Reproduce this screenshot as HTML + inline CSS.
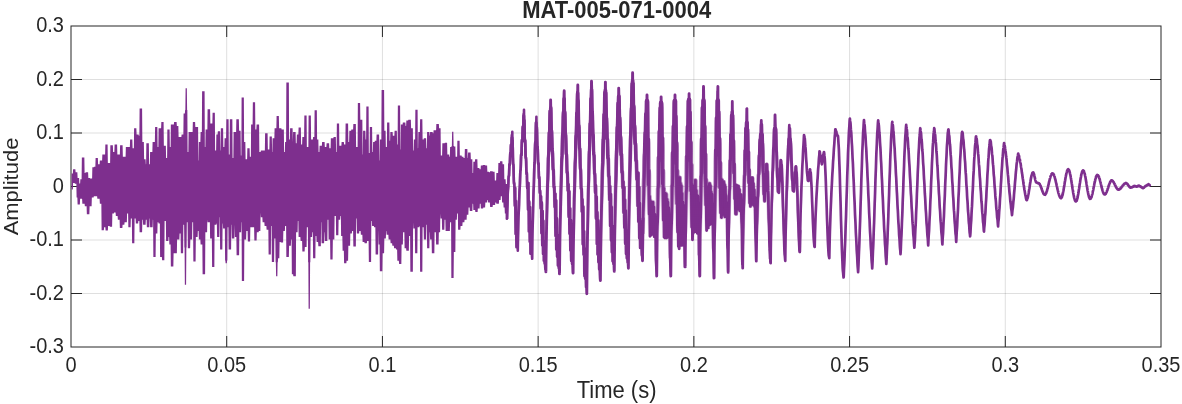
<!DOCTYPE html>
<html lang="en">
<head>
<meta charset="utf-8">
<title>MAT-005-071-0004</title>
<style>
html,body{margin:0;padding:0;background:#fff;}
body{width:1182px;height:404px;overflow:hidden;}
svg{display:block;}
text{font-family:"Liberation Sans",sans-serif;fill:#262626;}
.tick text{font-size:20px;}
.lab{font-size:22px;}
.title{font-size:22px;font-weight:bold;}
</style>
</head>
<body>
<svg width="1182" height="404" viewBox="0 0 1182 404">
<rect x="0" y="0" width="1182" height="404" fill="#ffffff"/>
<g stroke="#262626" stroke-opacity="0.15" stroke-width="1" fill="none">
<line x1="226.71" y1="26" x2="226.71" y2="347"/>
<line x1="382.43" y1="26" x2="382.43" y2="347"/>
<line x1="538.14" y1="26" x2="538.14" y2="347"/>
<line x1="693.86" y1="26" x2="693.86" y2="347"/>
<line x1="849.57" y1="26" x2="849.57" y2="347"/>
<line x1="1005.29" y1="26" x2="1005.29" y2="347"/>
<line x1="71" y1="293.5" x2="1161" y2="293.5"/>
<line x1="71" y1="240.0" x2="1161" y2="240.0"/>
<line x1="71" y1="186.5" x2="1161" y2="186.5"/>
<line x1="71" y1="133.0" x2="1161" y2="133.0"/>
<line x1="71" y1="79.5" x2="1161" y2="79.5"/>
</g>
<g stroke="#262626" stroke-width="1" fill="none">
<line x1="226.71" y1="347" x2="226.71" y2="336"/>
<line x1="226.71" y1="26" x2="226.71" y2="37"/>
<line x1="382.43" y1="347" x2="382.43" y2="336"/>
<line x1="382.43" y1="26" x2="382.43" y2="37"/>
<line x1="538.14" y1="347" x2="538.14" y2="336"/>
<line x1="538.14" y1="26" x2="538.14" y2="37"/>
<line x1="693.86" y1="347" x2="693.86" y2="336"/>
<line x1="693.86" y1="26" x2="693.86" y2="37"/>
<line x1="849.57" y1="347" x2="849.57" y2="336"/>
<line x1="849.57" y1="26" x2="849.57" y2="37"/>
<line x1="1005.29" y1="347" x2="1005.29" y2="336"/>
<line x1="1005.29" y1="26" x2="1005.29" y2="37"/>
<line x1="71" y1="293.5" x2="82" y2="293.5"/>
<line x1="1161" y1="293.5" x2="1150" y2="293.5"/>
<line x1="71" y1="240.0" x2="82" y2="240.0"/>
<line x1="1161" y1="240.0" x2="1150" y2="240.0"/>
<line x1="71" y1="186.5" x2="82" y2="186.5"/>
<line x1="1161" y1="186.5" x2="1150" y2="186.5"/>
<line x1="71" y1="133.0" x2="82" y2="133.0"/>
<line x1="1161" y1="133.0" x2="1150" y2="133.0"/>
<line x1="71" y1="79.5" x2="82" y2="79.5"/>
<line x1="1161" y1="79.5" x2="1150" y2="79.5"/>
</g>
<rect x="71" y="26" width="1090" height="321" fill="none" stroke="#262626" stroke-width="1"/>
<svg x="71" y="26" width="1090" height="321" viewBox="71 26 1090 321" overflow="hidden">
<path fill="#7E2F8E" d="M71.60 173.5 L72.85 173.5 L73.10 169.2 L75.35 169.2 L75.60 172.2 L77.35 172.2 L77.60 177.9 L79.10 177.9 L79.35 183.6 L80.10 183.6 L80.35 179.2 L81.60 179.2 L81.85 157.6 L84.35 157.6 L84.60 173.0 L85.35 173.0 L85.60 172.2 L88.10 172.2 L88.35 177.9 L89.85 177.9 L90.10 178.4 L92.10 178.4 L92.35 167.3 L93.85 167.3 L94.10 166.8 L95.35 166.8 L95.60 158.1 L97.85 158.1 L98.10 164.3 L99.60 164.3 L99.85 160.6 L102.10 160.6 L102.35 154.4 L105.10 154.4 L105.35 144.5 L107.60 144.5 L107.85 163.0 L110.10 163.0 L110.35 145.2 L112.85 145.2 L113.10 151.9 L114.35 151.9 L114.60 144.5 L117.10 144.5 L117.35 154.4 L119.85 154.4 L120.10 145.2 L122.60 145.2 L122.85 156.8 L125.60 156.8 L125.85 146.9 L129.85 146.9 L130.10 139.5 L132.35 139.5 L132.60 148.2 L133.85 148.2 L134.10 128.3 L136.35 128.3 L136.60 134.5 L138.60 134.5 L138.85 135.8 L139.35 135.8 L139.60 108.5 L142.10 108.5 L142.35 142.0 L143.85 142.0 L144.10 159.3 L145.60 159.3 L145.85 164.3 L146.10 164.3 L146.35 143.2 L148.85 143.2 L149.10 164.3 L149.85 164.3 L150.10 151.9 L152.35 151.9 L152.60 142.0 L154.85 142.0 L155.10 127.1 L157.35 127.1 L157.60 146.9 L158.35 146.9 L158.60 128.3 L161.10 128.3 L161.35 122.1 L163.60 122.1 L163.85 145.7 L165.85 145.7 L166.10 158.1 L167.10 158.1 L167.35 129.6 L169.60 129.6 L169.85 146.9 L170.60 146.9 L170.85 124.6 L173.85 124.6 L174.10 122.1 L176.60 122.1 L176.85 125.9 L178.35 125.9 L178.60 137.0 L181.35 137.0 L181.60 134.5 L183.35 134.5 L183.60 113.5 L184.85 113.5 L185.10 110.0 L185.35 110.0 L185.60 88.2 L186.85 88.2 L187.10 110.0 L187.35 110.0 L187.60 151.9 L188.35 151.9 L188.60 132.1 L192.60 132.1 L192.85 122.1 L195.10 122.1 L195.35 127.1 L198.10 127.1 L198.35 160.6 L198.60 160.6 L198.85 142.0 L200.35 142.0 L200.60 132.1 L201.85 132.1 L202.10 91.2 L204.60 91.2 L204.85 146.9 L205.35 146.9 L205.60 129.6 L207.35 129.6 L207.60 109.3 L210.10 109.3 L210.35 123.4 L212.35 123.4 L212.60 112.7 L214.85 112.7 L215.10 150.6 L216.10 150.6 L216.35 134.5 L217.60 134.5 L217.85 131.3 L220.10 131.3 L220.35 150.6 L220.60 150.6 L220.85 128.3 L223.10 128.3 L223.35 146.9 L224.35 146.9 L224.60 138.3 L226.10 138.3 L226.35 119.2 L228.60 119.2 L228.85 154.4 L229.60 154.4 L229.85 119.2 L232.35 119.2 L232.60 158.1 L233.35 158.1 L233.60 132.1 L236.10 132.1 L236.35 119.2 L238.85 119.2 L239.10 130.8 L240.60 130.8 L240.85 155.6 L241.35 155.6 L241.60 97.4 L243.85 97.4 L244.10 142.0 L245.35 142.0 L245.60 159.3 L247.10 159.3 L247.35 148.2 L249.60 148.2 L249.85 156.8 L250.85 156.8 L251.10 124.6 L252.60 124.6 L252.85 102.3 L255.10 102.3 L255.35 129.6 L256.35 129.6 L256.60 124.6 L259.10 124.6 L259.35 151.9 L260.60 151.9 L260.85 150.6 L264.85 150.6 L265.10 133.3 L267.60 133.3 L267.85 149.4 L269.35 149.4 L269.60 136.5 L271.85 136.5 L272.10 151.9 L272.35 151.9 L272.60 138.3 L274.35 138.3 L274.60 128.3 L276.35 128.3 L276.60 115.9 L278.85 115.9 L279.10 128.3 L281.35 128.3 L281.60 129.6 L283.85 129.6 L284.10 151.9 L284.85 151.9 L285.10 142.0 L286.10 142.0 L286.35 82.5 L288.85 82.5 L289.10 139.5 L289.85 139.5 L290.10 128.3 L292.60 128.3 L292.85 142.0 L293.10 132.1 L295.60 132.1 L295.85 143.2 L296.60 143.2 L296.85 134.5 L298.35 134.5 L298.60 127.6 L300.85 127.6 L301.10 144.5 L302.10 144.5 L302.35 137.0 L304.10 137.0 L304.35 115.4 L306.60 115.4 L306.85 146.9 L308.35 146.9 L308.60 115.4 L310.85 115.4 L311.10 139.5 L312.85 139.5 L313.10 137.0 L314.35 137.0 L314.60 110.2 L316.85 110.2 L317.10 139.5 L318.35 139.5 L318.60 151.9 L319.35 151.9 L319.60 145.7 L321.85 145.7 L322.10 142.0 L324.60 142.0 L324.85 146.9 L326.35 146.9 L326.60 143.2 L329.10 143.2 L329.35 148.2 L330.60 148.2 L330.85 138.3 L333.35 138.3 L333.60 137.0 L335.85 137.0 L336.10 151.9 L336.60 151.9 L336.85 123.4 L339.10 123.4 L339.35 145.7 L341.35 145.7 L341.60 142.0 L343.85 142.0 L344.10 144.5 L345.35 144.5 L345.60 123.4 L348.10 123.4 L348.35 142.0 L349.10 142.0 L349.35 130.8 L351.10 130.8 L351.35 129.6 L353.10 129.6 L353.35 124.1 L355.85 124.1 L356.10 146.9 L357.60 146.9 L357.85 103.1 L360.10 103.1 L360.35 119.7 L362.35 119.7 L362.60 154.4 L362.85 154.4 L363.10 130.8 L365.35 130.8 L365.60 139.5 L366.10 139.5 L366.35 106.5 L368.60 106.5 L368.85 153.1 L369.60 153.1 L369.85 127.1 L372.10 127.1 L372.35 151.9 L372.85 151.9 L373.10 142.0 L374.60 142.0 L374.85 140.7 L376.35 140.7 L376.60 134.5 L379.10 134.5 L379.35 160.6 L379.60 160.6 L379.85 139.5 L381.35 139.5 L381.60 89.9 L384.10 89.9 L384.35 130.8 L385.60 130.8 L385.85 146.9 L386.85 146.9 L387.10 122.6 L389.35 122.6 L389.60 140.7 L390.10 140.7 L390.35 132.1 L392.60 132.1 L392.85 135.8 L394.35 135.8 L394.60 130.8 L396.85 130.8 L397.10 144.5 L397.60 144.5 L397.85 105.5 L400.10 105.5 L400.35 149.4 L400.60 149.4 L400.85 124.6 L402.60 124.6 L402.85 122.6 L405.35 122.6 L405.60 125.9 L406.10 125.9 L406.35 120.4 L408.10 120.4 L408.35 119.7 L410.85 119.7 L411.10 128.3 L412.85 128.3 L413.10 150.6 L413.60 150.6 L413.85 139.5 L415.10 139.5 L415.35 109.7 L417.60 109.7 L417.85 148.2 L418.10 148.2 L418.35 132.1 L419.85 132.1 L420.10 119.2 L422.35 119.2 L422.60 139.5 L423.60 139.5 L423.85 138.3 L426.10 138.3 L426.35 148.2 L426.85 148.2 L427.10 132.1 L429.35 132.1 L429.60 135.8 L429.85 135.8 L430.10 132.1 L432.60 132.1 L432.85 133.3 L433.35 133.3 L433.60 130.3 L436.10 130.3 L436.35 123.9 L438.85 123.9 L439.10 128.3 L440.60 128.3 L440.85 155.6 L442.10 155.6 L442.35 143.2 L444.60 143.2 L444.85 142.7 L447.10 142.7 L447.35 154.4 L449.10 154.4 L449.35 156.8 L449.85 156.8 L450.10 146.9 L451.35 146.9 L451.60 145.9 L451.85 145.9 L452.10 131.8 L453.35 131.8 L453.60 145.9 L453.85 145.9 L454.10 146.4 L455.35 146.4 L455.60 156.8 L457.10 156.8 L457.35 140.7 L459.60 140.7 L459.85 155.6 L461.60 155.6 L461.85 156.8 L463.35 156.8 L463.60 158.1 L464.60 158.1 L464.85 148.9 L467.35 148.9 L467.60 158.1 L467.85 158.1 L468.10 152.4 L470.60 152.4 L470.85 159.3 L472.35 159.3 L472.60 173.0 L473.10 173.0 L473.35 161.8 L474.85 161.8 L475.10 159.3 L477.35 159.3 L477.60 168.0 L479.35 168.0 L479.60 169.2 L480.60 169.2 L480.85 165.5 L482.60 165.5 L482.85 165.0 L485.10 165.0 L485.35 165.5 L487.10 165.5 L487.35 171.7 L488.85 171.7 L489.10 172.2 L489.85 172.2 L490.10 171.2 L492.60 171.2 L492.85 171.7 L494.60 171.7 L494.85 180.4 L496.10 180.4 L496.35 173.0 L498.10 173.0 L498.35 163.0 L499.85 163.0 L500.10 161.3 L502.35 161.3 L502.60 164.3 L504.10 164.3 L504.35 179.2 L505.60 179.2 L505.85 184.1 L507.35 184.1 L507.60 186.6 L508.60 186.6 L508.60 206.2 L508.35 219.0 L506.10 219.0 L505.85 213.6 L504.85 213.6 L504.60 207.4 L503.60 207.4 L503.35 202.4 L502.10 202.4 L501.85 196.2 L500.85 196.2 L500.60 200.0 L499.10 200.0 L498.85 203.7 L496.35 203.7 L496.10 202.4 L495.35 202.4 L495.10 204.9 L492.85 204.9 L492.60 206.9 L490.10 206.9 L489.85 202.4 L488.10 202.4 L487.85 200.0 L487.35 200.0 L487.10 202.4 L485.35 202.4 L485.10 207.4 L483.35 207.4 L483.10 208.6 L480.85 208.6 L480.60 203.7 L479.85 203.7 L479.60 208.6 L477.85 208.6 L477.60 211.9 L475.35 211.9 L475.10 209.9 L473.35 209.9 L473.10 203.7 L472.60 203.7 L472.35 211.1 L469.85 211.1 L469.60 207.4 L468.60 207.4 L468.35 214.8 L466.85 214.8 L466.60 219.8 L464.60 219.8 L464.35 222.3 L462.60 222.3 L462.35 226.0 L460.60 226.0 L460.35 229.7 L458.10 229.7 L457.85 213.6 L457.10 213.6 L456.85 219.8 L455.60 219.8 L455.35 252.0 L453.85 252.0 L453.60 278.0 L451.35 278.0 L451.10 222.3 L450.10 222.3 L449.85 230.9 L445.60 230.9 L445.35 219.8 L444.60 219.8 L444.35 229.7 L442.10 229.7 L441.85 218.5 L440.60 218.5 L440.35 213.6 L440.10 232.2 L438.85 232.2 L438.60 244.6 L436.10 244.6 L435.85 232.2 L434.60 232.2 L434.35 253.3 L431.85 253.3 L431.60 239.6 L430.10 239.6 L429.85 232.2 L429.60 232.2 L429.35 248.3 L427.10 248.3 L426.85 224.7 L426.35 224.7 L426.10 239.6 L423.85 239.6 L423.60 227.2 L422.60 227.2 L422.35 271.8 L420.10 271.8 L419.85 226.0 L419.60 226.0 L419.35 227.2 L417.60 227.2 L417.35 253.3 L415.10 253.3 L414.85 228.5 L413.35 228.5 L413.10 222.3 L412.85 271.8 L410.35 271.8 L410.10 235.9 L409.10 235.9 L408.85 250.8 L406.35 250.8 L406.10 248.3 L404.60 248.3 L404.35 232.2 L403.10 232.2 L402.85 244.6 L401.60 244.6 L401.35 263.9 L399.10 263.9 L398.85 260.7 L397.35 260.7 L397.10 249.5 L396.10 249.5 L395.85 248.3 L394.10 248.3 L393.85 245.8 L392.35 245.8 L392.10 243.3 L390.60 243.3 L390.35 239.6 L388.60 239.6 L388.35 234.7 L386.60 234.7 L386.35 230.9 L386.10 230.9 L385.85 238.4 L384.35 238.4 L384.10 253.3 L382.60 253.3 L382.35 271.3 L379.85 271.3 L379.60 244.6 L378.60 244.6 L378.35 229.7 L378.10 254.5 L375.60 254.5 L375.35 227.2 L374.10 227.2 L373.85 226.0 L372.10 226.0 L371.85 221.0 L371.35 221.0 L371.10 261.9 L368.85 261.9 L368.60 240.9 L367.10 240.9 L366.85 243.3 L364.60 243.3 L364.35 242.1 L362.60 242.1 L362.35 234.7 L360.85 234.7 L360.60 230.9 L359.35 230.9 L359.10 233.4 L356.85 233.4 L356.60 218.5 L356.10 218.5 L355.85 246.6 L353.35 246.6 L353.10 230.9 L352.10 230.9 L351.85 233.4 L350.35 233.4 L350.10 245.8 L348.35 245.8 L348.10 260.7 L346.60 260.7 L346.35 263.2 L344.10 263.2 L343.85 250.8 L342.60 250.8 L342.35 235.9 L341.10 235.9 L340.85 216.1 L340.35 216.1 L340.10 219.8 L338.60 219.8 L338.35 235.2 L336.10 235.2 L335.85 216.1 L334.60 216.1 L334.35 239.6 L332.85 239.6 L332.60 259.5 L330.35 259.5 L330.10 239.6 L328.60 239.6 L328.35 219.8 L327.60 219.8 L327.35 240.9 L324.85 240.9 L324.60 232.2 L324.35 232.2 L324.10 243.3 L321.60 243.3 L321.35 222.3 L321.10 222.3 L320.85 246.3 L318.35 246.3 L318.10 242.1 L316.60 242.1 L316.35 235.9 L315.60 235.9 L315.35 258.2 L313.10 258.2 L312.85 232.2 L312.35 232.2 L312.10 237.1 L310.60 237.1 L310.35 262.3 L310.10 262.3 L309.85 308.8 L308.60 308.8 L308.35 262.3 L308.10 262.3 L307.85 227.2 L306.85 227.2 L306.60 247.1 L304.85 247.1 L304.60 251.5 L302.35 251.5 L302.10 240.9 L300.60 240.9 L300.35 237.1 L298.60 237.1 L298.35 221.0 L297.85 221.0 L297.60 232.2 L296.10 232.2 L295.85 276.3 L293.35 276.3 L293.10 274.3 L291.85 274.3 L291.60 239.6 L291.10 239.6 L290.85 245.8 L289.10 245.8 L288.85 257.0 L286.35 257.0 L286.10 226.0 L285.10 226.0 L284.85 230.9 L283.35 230.9 L283.10 242.6 L280.85 242.6 L280.60 242.1 L279.60 242.1 L279.35 258.2 L278.10 258.2 L277.85 262.3 L277.60 262.3 L277.35 276.3 L276.10 276.3 L275.85 262.3 L275.60 262.3 L275.35 238.4 L274.35 238.4 L274.10 261.9 L271.85 261.9 L271.60 226.0 L271.10 226.0 L270.85 254.5 L268.60 254.5 L268.35 229.7 L266.60 229.7 L266.35 226.0 L264.60 226.0 L264.35 222.3 L262.60 222.3 L262.35 217.3 L260.85 217.3 L260.60 212.4 L260.35 230.9 L258.85 230.9 L258.60 232.2 L256.85 232.2 L256.60 240.4 L254.35 240.4 L254.10 227.2 L250.35 227.2 L250.10 241.4 L247.85 241.4 L247.60 230.9 L246.35 230.9 L246.10 239.6 L244.35 239.6 L244.10 281.0 L241.85 281.0 L241.60 222.3 L241.35 222.3 L241.10 232.2 L239.35 232.2 L239.10 255.2 L236.60 255.2 L236.35 237.1 L234.85 237.1 L234.60 224.7 L234.35 238.4 L231.85 238.4 L231.60 224.7 L231.35 224.7 L231.10 249.5 L228.60 249.5 L228.35 227.2 L227.60 227.2 L227.35 260.5 L227.10 260.5 L226.85 263.2 L225.60 263.2 L225.35 260.5 L225.10 260.5 L224.85 228.5 L223.10 228.5 L222.85 223.5 L222.60 223.5 L222.35 249.5 L220.10 249.5 L219.85 217.3 L219.60 217.3 L219.35 237.1 L217.10 237.1 L216.85 223.5 L216.60 223.5 L216.35 224.7 L214.60 224.7 L214.35 266.9 L212.10 266.9 L211.85 238.4 L210.10 238.4 L209.85 222.3 L207.60 222.3 L207.35 219.8 L207.10 232.2 L205.35 232.2 L205.10 274.3 L202.60 274.3 L202.35 244.6 L200.60 244.6 L200.35 239.6 L198.85 239.6 L198.60 230.9 L197.85 230.9 L197.60 237.1 L195.85 237.1 L195.60 261.4 L193.35 261.4 L193.10 222.3 L192.35 222.3 L192.10 239.6 L190.35 239.6 L190.10 248.3 L187.85 248.3 L187.60 222.3 L186.85 222.3 L186.60 247.4 L186.35 247.4 L186.10 284.7 L184.85 284.7 L184.60 247.4 L184.35 247.4 L184.10 224.7 L183.35 224.7 L183.10 253.3 L180.85 253.3 L180.60 233.4 L179.60 233.4 L179.35 239.6 L177.10 239.6 L176.85 253.3 L173.60 253.3 L173.35 266.4 L170.85 266.4 L170.60 244.6 L169.35 244.6 L169.10 237.1 L168.60 237.1 L168.35 240.9 L166.10 240.9 L165.85 221.0 L164.60 221.0 L164.35 260.2 L162.10 260.2 L161.85 257.0 L160.10 257.0 L159.85 223.5 L158.60 223.5 L158.35 222.3 L157.60 222.3 L157.35 233.4 L155.85 233.4 L155.60 257.0 L153.35 257.0 L153.10 219.8 L152.85 219.8 L152.60 227.2 L150.10 227.2 L149.85 218.5 L149.60 218.5 L149.35 227.2 L146.85 227.2 L146.60 219.8 L145.85 219.8 L145.60 224.7 L143.10 224.7 L142.85 219.8 L142.35 219.8 L142.10 232.2 L139.60 232.2 L139.35 221.0 L138.35 221.0 L138.10 223.5 L135.85 223.5 L135.60 218.5 L134.60 218.5 L134.35 243.3 L132.10 243.3 L131.85 218.5 L130.85 218.5 L130.60 227.2 L128.35 227.2 L128.10 213.6 L127.10 213.6 L126.85 222.3 L124.60 222.3 L124.35 224.7 L122.60 224.7 L122.35 228.0 L119.85 228.0 L119.60 219.8 L117.85 219.8 L117.60 216.1 L115.85 216.1 L115.60 212.4 L114.10 212.4 L113.85 213.6 L112.35 213.6 L112.10 226.7 L109.85 226.7 L109.60 226.0 L108.10 226.0 L107.85 230.4 L105.60 230.4 L105.35 227.2 L104.10 227.2 L103.85 230.2 L101.60 230.2 L101.35 203.7 L99.85 203.7 L99.60 198.7 L97.35 198.7 L97.10 196.2 L93.85 196.2 L93.60 197.5 L91.85 197.5 L91.60 206.2 L89.60 206.2 L89.35 214.3 L86.85 214.3 L86.60 206.2 L84.85 206.2 L84.60 203.7 L82.35 203.7 L82.10 198.7 L80.10 198.7 L79.85 204.4 L77.60 204.4 L77.35 197.5 L76.60 197.5 L76.35 183.8 L74.85 183.8 L74.60 183.1 L73.10 183.1 L72.85 189.5 L71.60 189.5 Z"/>
<path fill="none" stroke="#7E2F8E" stroke-width="2.6" stroke-linejoin="round" stroke-linecap="round" d="M506.90 218.8 L507.03 212.3 L507.15 208.8 L507.28 206.4 L507.40 203.9 L507.53 200.2 L507.65 196.2 L507.78 192.6 L507.90 190.6 L508.03 189.3 L508.16 187.9 L508.28 185.6 L508.41 182.4 L508.53 178.6 L508.66 176.8 L508.78 176.0 L508.91 176.1 L509.03 175.4 L509.16 171.8 L509.29 167.8 L509.41 164.2 L509.54 164.5 L509.66 165.3 L509.79 165.0 L509.91 162.7 L510.04 158.9 L510.17 155.2 L510.29 153.1 L510.42 154.9 L510.54 156.6 L510.67 155.8 L510.79 151.4 L510.92 146.4 L511.04 144.7 L511.17 145.2 L511.30 147.3 L511.42 149.0 L511.55 145.4 L511.67 139.9 L511.80 135.1 L511.92 135.1 L512.05 138.2 L512.17 142.0 L512.30 131.7 L512.42 140.5 L512.55 140.4 L512.67 143.5 L512.80 149.8 L512.92 157.4 L513.05 161.6 L513.17 164.3 L513.30 164.2 L513.42 165.0 L513.55 167.8 L513.67 173.9 L513.80 179.7 L513.92 182.4 L514.05 183.8 L514.17 182.8 L514.30 184.0 L514.42 187.9 L514.55 194.4 L514.67 201.5 L514.80 205.6 L514.92 201.7 L515.05 193.6 L515.17 187.9 L515.30 199.6 L515.42 220.5 L515.55 234.0 L515.67 226.2 L515.80 214.8 L515.92 202.2 L516.05 200.9 L516.17 220.0 L516.30 238.1 L516.42 247.2 L516.55 241.6 L516.67 229.9 L516.80 224.0 L516.92 230.3 L517.05 238.8 L517.17 244.2 L517.30 247.1 L517.42 245.9 L517.55 245.6 L517.67 246.5 L517.80 250.8 L517.93 243.2 L518.05 238.3 L518.18 233.2 L518.31 227.5 L518.43 221.6 L518.56 216.5 L518.69 213.3 L518.81 210.6 L518.94 207.9 L519.07 204.6 L519.19 199.9 L519.32 195.5 L519.44 191.9 L519.57 189.5 L519.70 187.9 L519.82 186.2 L519.95 183.0 L520.08 178.5 L520.20 174.6 L520.33 171.4 L520.46 170.4 L520.58 170.1 L520.71 169.0 L520.84 164.9 L520.96 159.9 L521.09 155.8 L521.22 154.1 L521.34 154.5 L521.47 155.3 L521.60 153.2 L521.72 148.4 L521.85 142.7 L521.98 140.0 L522.10 139.8 L522.23 140.8 L522.36 141.6 L522.48 137.5 L522.61 132.6 L522.73 128.0 L522.86 126.5 L522.99 127.7 L523.11 128.8 L523.24 127.4 L523.37 123.1 L523.49 117.6 L523.62 113.7 L523.75 115.0 L523.87 118.3 L524.00 109.7 L524.13 120.1 L524.25 119.7 L524.38 120.3 L524.50 124.6 L524.63 131.5 L524.76 138.5 L524.88 141.5 L525.01 140.5 L525.14 140.4 L525.26 143.3 L525.39 147.8 L525.51 153.1 L525.64 156.7 L525.77 158.1 L525.89 157.5 L526.02 158.8 L526.14 161.3 L526.27 167.6 L526.40 171.7 L526.52 174.0 L526.65 173.1 L526.78 172.5 L526.90 174.3 L527.03 180.6 L527.15 186.5 L527.28 188.4 L527.41 188.2 L527.53 186.6 L527.66 184.1 L527.78 190.7 L527.91 203.1 L528.04 209.8 L528.16 207.3 L528.29 195.5 L528.42 183.1 L528.54 191.0 L528.67 213.3 L528.79 231.5 L528.92 231.1 L529.05 215.4 L529.17 201.3 L529.30 202.3 L529.42 217.4 L529.55 232.6 L529.68 241.8 L529.80 234.6 L529.93 218.8 L530.06 207.0 L530.18 219.9 L530.31 238.6 L530.43 253.8 L530.56 252.1 L530.69 239.8 L530.81 233.4 L530.94 234.7 L531.06 242.0 L531.19 249.0 L531.32 252.5 L531.44 251.7 L531.57 249.3 L531.70 249.3 L531.82 251.4 L531.95 255.0 L532.07 257.5 L532.20 258.8 L532.33 248.6 L532.45 239.1 L532.58 231.2 L532.71 225.4 L532.84 220.6 L532.96 216.3 L533.09 210.6 L533.22 204.5 L533.35 198.1 L533.47 193.6 L533.60 190.3 L533.73 188.2 L533.85 185.3 L533.98 180.2 L534.11 174.6 L534.24 169.4 L534.36 165.0 L534.49 164.1 L534.62 163.0 L534.75 161.5 L534.87 156.5 L535.00 149.7 L535.13 144.9 L535.25 142.4 L535.38 142.8 L535.51 142.3 L535.64 141.7 L535.76 134.9 L535.89 127.8 L536.02 122.2 L536.15 122.9 L536.27 125.3 L536.40 116.8 L536.52 127.7 L536.65 127.4 L536.77 127.0 L536.90 129.6 L537.02 134.8 L537.15 141.4 L537.27 146.1 L537.40 147.0 L537.52 146.6 L537.65 147.1 L537.77 149.6 L537.90 154.4 L538.02 160.1 L538.15 162.9 L538.27 164.1 L538.40 163.0 L538.52 163.3 L538.65 166.4 L538.77 171.5 L538.90 176.4 L539.02 178.3 L539.15 178.3 L539.27 177.1 L539.40 179.0 L539.52 182.4 L539.65 188.1 L539.77 192.2 L539.90 192.9 L540.02 191.8 L540.15 190.8 L540.27 192.5 L540.40 198.2 L540.52 204.9 L540.65 208.5 L540.77 207.1 L540.90 199.6 L541.02 196.4 L541.15 202.5 L541.27 218.2 L541.40 233.3 L541.52 228.7 L541.65 214.8 L541.77 202.3 L541.90 204.6 L542.02 221.6 L542.15 239.7 L542.27 245.4 L542.40 234.1 L542.52 215.5 L542.65 211.0 L542.77 222.8 L542.90 246.2 L543.02 253.9 L543.15 251.7 L543.27 234.3 L543.40 220.8 L543.52 231.3 L543.65 246.3 L543.77 260.8 L543.90 259.3 L544.02 251.8 L544.15 244.3 L544.27 241.3 L544.40 250.7 L544.52 262.0 L544.65 263.5 L544.77 262.4 L544.90 258.4 L545.02 258.7 L545.15 260.2"/>
<path fill="none" stroke="#7E2F8E" stroke-width="2.9" stroke-linejoin="round" stroke-linecap="round" d="M544.90 258.4 L545.02 258.7 L545.15 260.2 L545.27 265.2 L545.40 267.9 L545.52 269.6 L545.65 268.5 L545.77 268.5 L545.90 271.9 L546.03 260.0 L546.15 252.0 L546.28 244.5 L546.41 236.5 L546.54 228.5 L546.66 221.6 L546.79 216.0 L546.92 211.8 L547.04 207.1 L547.17 202.3 L547.30 195.9 L547.42 190.0 L547.55 184.9 L547.68 181.8 L547.81 179.6 L547.93 175.7 L548.06 171.3 L548.19 164.5 L548.31 158.6 L548.44 156.6 L548.57 155.1 L548.69 153.2 L548.82 150.8 L548.95 144.4 L549.08 138.4 L549.20 133.7 L549.33 132.1 L549.46 133.3 L549.58 131.5 L549.71 127.1 L549.84 120.4 L549.96 114.0 L550.09 110.8 L550.22 112.1 L550.35 112.7 L550.47 112.8 L550.60 99.9 L550.73 106.6 L550.85 106.3 L550.98 112.3 L551.10 120.2 L551.23 126.3 L551.35 131.5 L551.48 131.0 L551.60 130.7 L551.73 132.8 L551.85 137.3 L551.98 142.9 L552.10 148.7 L552.23 150.6 L552.35 151.4 L552.48 151.3 L552.61 153.4 L552.73 157.5 L552.86 162.7 L552.98 167.0 L553.11 169.5 L553.23 169.7 L553.36 169.6 L553.48 170.6 L553.61 175.8 L553.73 181.5 L553.86 185.4 L553.98 187.2 L554.11 186.7 L554.24 186.5 L554.36 189.0 L554.49 192.8 L554.61 201.7 L554.74 206.8 L554.86 207.2 L554.99 198.2 L555.11 195.0 L555.24 193.8 L555.36 211.1 L555.49 228.5 L555.61 236.0 L555.74 222.2 L555.86 207.4 L555.99 200.5 L556.12 210.5 L556.24 232.1 L556.37 249.5 L556.49 246.1 L556.62 230.3 L556.74 218.3 L556.87 219.9 L556.99 235.2 L557.12 250.9 L557.24 256.8 L557.37 252.7 L557.49 238.6 L557.62 235.0 L557.75 242.5 L557.87 255.3 L558.00 265.5 L558.12 263.3 L558.25 256.4 L558.37 253.5 L558.50 255.8 L558.62 261.2 L558.75 265.6 L558.87 268.2 L559.00 267.7 L559.12 266.8 L559.25 267.5 L559.37 270.6 L559.50 273.9 L559.63 263.1 L559.75 252.8 L559.88 243.1 L560.01 234.6 L560.14 227.3 L560.26 221.7 L560.39 216.6 L560.52 210.5 L560.64 203.8 L560.77 197.2 L560.90 191.4 L561.02 187.5 L561.15 184.3 L561.28 180.0 L561.41 174.5 L561.53 168.1 L561.66 162.8 L561.79 159.2 L561.91 157.8 L562.04 155.9 L562.17 151.1 L562.29 144.2 L562.42 137.5 L562.55 134.8 L562.68 134.0 L562.80 134.4 L562.93 129.9 L563.06 124.2 L563.18 116.7 L563.31 113.4 L563.44 111.6 L563.56 113.6 L563.69 112.4 L563.82 107.2 L563.95 98.7 L564.07 93.5 L564.20 90.7 L564.33 100.1 L564.45 109.0 L564.58 112.7 L564.70 112.3 L564.83 111.8 L564.95 113.6 L565.08 120.1 L565.20 127.3 L565.33 131.7 L565.45 133.6 L565.58 134.5 L565.70 135.3 L565.83 138.6 L565.95 143.3 L566.08 149.3 L566.21 153.4 L566.33 154.4 L566.46 153.9 L566.58 154.7 L566.71 158.8 L566.83 163.8 L566.96 169.7 L567.08 172.5 L567.21 172.9 L567.33 172.0 L567.46 173.9 L567.58 176.7 L567.71 182.8 L567.84 187.4 L567.96 190.5 L568.09 190.7 L568.21 187.7 L568.34 184.3 L568.46 189.9 L568.59 203.8 L568.71 214.6 L568.84 216.9 L568.96 207.2 L569.09 192.2 L569.21 191.5 L569.34 205.1 L569.46 223.0 L569.59 233.7 L569.72 232.6 L569.84 220.4 L569.97 210.0 L570.09 208.5 L570.22 225.1 L570.34 240.3 L570.47 250.4 L570.59 248.2 L570.72 232.0 L570.84 220.2 L570.97 227.8 L571.09 242.0 L571.22 256.7 L571.35 260.9 L571.47 253.9 L571.60 245.4 L571.72 245.2 L571.85 247.9 L571.97 258.0 L572.10 262.3 L572.22 264.0 L572.35 263.1 L572.47 261.3 L572.60 263.0 L572.72 266.3 L572.85 269.7 L572.97 272.5 L573.10 273.1 L573.23 260.3 L573.35 249.6 L573.48 240.5 L573.61 233.5 L573.74 227.2 L573.86 221.0 L573.99 213.4 L574.12 205.6 L574.24 199.1 L574.37 194.5 L574.50 190.8 L574.62 186.6 L574.75 180.8 L574.88 174.5 L575.01 168.1 L575.13 163.7 L575.26 161.3 L575.39 158.8 L575.51 155.0 L575.64 149.0 L575.77 141.9 L575.89 138.3 L576.02 135.6 L576.15 135.5 L576.28 132.2 L576.40 127.8 L576.53 119.9 L576.66 113.6 L576.78 112.7 L576.91 113.1 L577.04 112.6 L577.16 109.4 L577.29 100.8 L577.42 94.2 L577.55 91.2 L577.67 92.4 L577.80 85.0 L577.92 98.3 L578.05 100.1 L578.17 100.5 L578.30 102.4 L578.42 110.7 L578.55 118.3 L578.67 124.1 L578.80 125.6 L578.92 126.2 L579.05 127.1 L579.17 131.8 L579.30 138.7 L579.42 144.7 L579.55 148.4 L579.67 148.5 L579.80 148.7 L579.92 151.0 L580.05 157.0 L580.17 163.4 L580.30 167.6 L580.42 169.5 L580.55 168.8 L580.67 170.1 L580.80 174.2 L580.92 179.8 L581.05 185.0 L581.17 188.6 L581.30 188.7 L581.42 188.5 L581.55 189.5 L581.67 193.8 L581.80 202.3 L581.92 211.4 L582.05 211.5 L582.17 206.0 L582.30 199.4 L582.42 202.1 L582.55 213.6 L582.67 229.4 L582.80 244.3 L582.92 233.4 L583.05 219.9 L583.17 206.6 L583.30 213.4 L583.42 235.3 L583.55 249.9 L583.67 254.6 L583.80 246.4 L583.92 234.0 L584.05 231.3 L584.17 238.4 L584.30 255.2 L584.42 271.8 L584.55 276.1 L584.67 261.4 L584.80 249.7 L584.92 248.5 L585.05 257.8 L585.17 271.2 L585.30 278.7 L585.42 277.3 L585.55 273.7 L585.67 269.3 L585.80 273.5 L585.92 277.9 L586.05 283.3 L586.17 287.2 L586.30 287.2 L586.42 287.1 L586.55 287.7 L586.67 289.6 L586.80 293.7 L586.93 280.5 L587.05 269.8 L587.18 259.2 L587.31 248.9 L587.44 239.8 L587.56 231.6 L587.69 225.5 L587.82 219.8 L587.94 213.6 L588.07 206.2 L588.20 198.7 L588.32 191.4 L588.45 186.5 L588.58 183.2 L588.71 179.9 L588.83 173.9 L588.96 167.2 L589.09 160.5 L589.21 154.7 L589.34 151.6 L589.47 150.3 L589.59 147.3 L589.72 141.5 L589.85 133.9 L589.98 127.5 L590.10 123.7 L590.23 122.9 L590.36 122.8 L590.48 118.2 L590.61 112.0 L590.74 103.7 L590.86 99.2 L590.99 98.1 L591.12 98.5 L591.25 98.2 L591.37 92.6 L591.50 81.3 L591.63 86.4 L591.75 91.1 L591.88 100.0 L592.00 107.5 L592.13 111.1 L592.25 112.1 L592.38 113.0 L592.50 115.6 L592.63 121.2 L592.75 128.3 L592.88 132.8 L593.00 134.8 L593.13 134.7 L593.25 136.4 L593.38 140.4 L593.51 146.4 L593.63 152.2 L593.76 154.4 L593.88 154.8 L594.01 154.8 L594.13 157.2 L594.26 163.1 L594.38 169.0 L594.51 173.6 L594.63 174.2 L594.76 173.5 L594.88 175.2 L595.01 178.9 L595.14 185.2 L595.26 191.1 L595.39 192.8 L595.51 190.3 L595.64 185.1 L595.76 188.1 L595.89 199.7 L596.01 216.9 L596.14 218.7 L596.26 212.6 L596.39 199.3 L596.51 196.6 L596.64 205.8 L596.76 226.3 L596.89 243.9 L597.02 235.3 L597.14 221.1 L597.27 212.2 L597.39 215.2 L597.52 232.9 L597.64 254.4 L597.77 252.0 L597.89 244.0 L598.02 231.1 L598.14 220.4 L598.27 238.8 L598.39 253.8 L598.52 262.3 L598.65 262.2 L598.77 252.8 L598.90 245.3 L599.02 249.4 L599.15 259.2 L599.27 268.6 L599.40 269.7 L599.52 268.5 L599.65 266.9 L599.77 267.2 L599.90 271.0 L600.02 274.6 L600.15 277.8 L600.27 279.3 L600.40 280.6 L600.52 267.6 L600.65 257.4 L600.77 248.8 L600.90 241.9 L601.02 235.7 L601.15 228.1 L601.27 220.7 L601.40 213.4 L601.52 207.1 L601.65 202.0 L601.77 198.3 L601.90 193.9 L602.02 188.3 L602.15 182.1 L602.27 175.8 L602.40 170.3 L602.52 167.8 L602.65 165.3 L602.77 162.9 L602.90 157.0 L603.02 151.1 L603.15 144.5 L603.27 140.5 L603.40 139.3 L603.52 137.7 L603.65 135.1 L603.77 131.3 L603.90 124.2 L604.02 117.5 L604.15 114.1 L604.27 114.5 L604.40 114.4 L604.52 113.7 L604.65 107.2 L604.77 99.9 L604.90 93.1 L605.02 91.9 L605.15 92.7 L605.27 92.8 L605.40 82.1 L605.53 92.8 L605.65 92.1 L605.78 93.5 L605.90 101.4 L606.03 108.5 L606.15 115.0 L606.28 118.6 L606.40 118.0 L606.53 118.7 L606.65 121.9 L606.78 126.9 L606.90 133.0 L607.03 138.2 L607.15 138.9 L607.28 139.0 L607.41 139.6 L607.53 143.1 L607.66 149.3 L607.78 155.2 L607.91 157.9 L608.03 158.5 L608.16 158.2 L608.28 159.1 L608.41 164.7 L608.53 170.3 L608.66 175.8 L608.78 176.4 L608.91 176.1 L609.04 176.6 L609.16 178.5 L609.29 184.8 L609.41 195.1 L609.54 200.0 L609.66 195.1 L609.79 187.2 L609.91 186.3 L610.04 194.8 L610.16 211.7 L610.29 225.9 L610.41 218.0 L610.54 203.7 L610.66 194.1 L610.79 199.4 L610.92 220.0 L611.04 238.6 L611.17 240.5 L611.29 224.3 L611.42 213.2 L611.54 206.9 L611.67 226.2 L611.79 245.8 L611.92 252.3 L612.04 245.7 L612.17 230.8 L612.29 226.2 L612.42 234.9 L612.55 248.7 L612.67 261.2 L612.80 257.4 L612.92 249.7 L613.05 245.8 L613.17 247.3 L613.30 256.0 L613.42 261.0 L613.55 264.1 L613.67 263.0 L613.80 261.6 L613.92 263.5 L614.05 266.1 L614.17 269.6 L614.30 271.4 L614.43 259.6 L614.55 248.3 L614.68 238.4 L614.80 230.4 L614.93 223.8 L615.05 218.3 L615.18 211.9 L615.31 204.9 L615.43 197.5 L615.56 190.6 L615.68 186.2 L615.81 182.6 L615.93 179.4 L616.06 174.5 L616.19 167.5 L616.31 160.8 L616.44 155.8 L616.56 153.4 L616.69 151.5 L616.81 148.3 L616.94 143.4 L617.07 136.9 L617.19 130.4 L617.32 126.9 L617.44 126.3 L617.57 125.2 L617.69 123.0 L617.82 117.5 L617.95 110.3 L618.07 104.5 L618.20 102.6 L618.32 103.1 L618.45 103.7 L618.57 99.5 L618.70 88.3 L618.83 93.3 L618.95 95.2 L619.08 101.2 L619.20 108.9 L619.33 114.7 L619.46 118.2 L619.58 117.6 L619.71 117.8 L619.83 120.3 L619.96 124.7 L620.09 130.8 L620.21 135.5 L620.34 137.1 L620.46 137.3 L620.59 137.0 L620.72 139.2 L620.84 144.9 L620.97 150.1 L621.09 154.7 L621.22 155.1 L621.35 155.0 L621.47 154.3 L621.60 157.9 L621.72 163.1 L621.85 168.4 L621.98 172.5 L622.10 171.9 L622.23 171.2 L622.35 172.3 L622.48 174.9 L622.61 180.7 L622.73 186.5 L622.86 187.9 L622.98 187.6 L623.11 183.5 L623.24 181.8 L623.36 189.5 L623.49 201.1 L623.61 212.0 L623.74 212.8 L623.86 199.3 L623.99 187.2 L624.12 187.5 L624.24 206.8 L624.37 223.2 L624.49 227.7 L624.62 222.5 L624.75 202.9 L624.87 199.8 L625.00 212.5 L625.12 231.2 L625.25 242.4 L625.38 243.8 L625.50 225.9 L625.63 210.6 L625.75 218.5 L625.88 232.3 L626.01 248.7 L626.13 254.0 L626.26 245.5 L626.38 230.7 L626.51 231.9 L626.64 239.9 L626.76 251.5 L626.89 258.2 L627.01 255.3 L627.14 250.3 L627.27 248.7 L627.39 251.3 L627.52 257.1 L627.64 260.6 L627.77 262.6 L627.90 261.7 L628.02 261.5 L628.15 262.2 L628.27 265.5 L628.40 268.2 L628.53 255.1 L628.65 243.1 L628.78 231.8 L628.91 222.1 L629.04 214.3 L629.16 208.0 L629.29 201.8 L629.42 194.4 L629.55 186.4 L629.67 179.2 L629.80 172.9 L629.93 168.9 L630.05 165.0 L630.18 160.3 L630.31 153.0 L630.44 145.6 L630.56 140.4 L630.69 137.1 L630.82 134.8 L630.95 131.3 L631.07 125.8 L631.20 118.5 L631.33 112.0 L631.45 108.9 L631.58 108.2 L631.71 107.7 L631.84 102.1 L631.96 95.1 L632.09 86.8 L632.22 83.2 L632.35 83.5 L632.47 84.4 L632.60 72.7 L632.73 83.9 L632.85 83.0 L632.98 83.0 L633.10 88.4 L633.23 96.9 L633.35 103.8 L633.48 105.5 L633.60 106.2 L633.73 105.9 L633.85 107.3 L633.98 112.8 L634.10 118.7 L634.23 124.0 L634.35 126.1 L634.48 125.6 L634.61 126.0 L634.73 127.8 L634.86 133.3 L634.98 139.2 L635.11 142.3 L635.23 144.2 L635.36 143.5 L635.48 143.5 L635.61 145.7 L635.73 151.6 L635.86 156.8 L635.98 160.5 L636.11 160.8 L636.23 160.4 L636.36 160.8 L636.48 163.9 L636.61 169.0 L636.74 174.7 L636.86 179.4 L636.99 177.6 L637.11 173.0 L637.24 172.6 L637.36 175.0 L637.49 187.3 L637.61 198.8 L637.74 205.9 L637.86 195.0 L637.99 181.0 L638.11 173.0 L638.24 189.5 L638.36 208.0 L638.49 221.7 L638.62 219.3 L638.74 207.3 L638.87 195.4 L638.99 187.3 L639.12 204.7 L639.24 223.5 L639.37 238.2 L639.49 231.3 L639.62 217.7 L639.74 203.2 L639.87 211.1 L639.99 222.6 L640.12 239.3 L640.24 247.9 L640.37 241.0 L640.49 227.1 L640.62 221.5 L640.75 229.5 L640.87 240.1 L641.00 247.0 L641.12 248.3 L641.25 245.2 L641.37 242.0 L641.50 243.3 L641.62 247.2 L641.75 252.0 L641.87 254.8 L642.00 255.6 L642.12 254.9 L642.25 255.5 L642.37 257.1 L642.50 260.7 L642.62 250.5 L642.75 241.9 L642.88 233.5 L643.00 225.2 L643.12 218.5"/>
<path fill="none" stroke="#7E2F8E" stroke-width="2.9" stroke-linejoin="round" stroke-linecap="round" d="M642.88 233.5 L643.00 225.2 L643.12 218.5 L643.25 213.0 L643.38 208.8 L643.50 204.0 L643.62 198.9 L643.75 192.4 L643.88 186.7 L644.00 182.3 L644.12 179.4 L644.25 177.3 L644.38 173.5 L644.50 167.4 L644.62 161.5 L644.75 157.4 L644.88 154.7 L645.00 154.0 L645.12 151.6 L645.25 147.3 L645.38 140.7 L645.50 134.4 L645.62 132.5 L645.75 133.0 L645.88 133.8 L646.00 128.9 L646.12 123.3 L646.25 116.6 L646.38 113.4 L646.50 113.6 L646.62 115.6 L646.75 112.8 L646.88 108.5 L647.00 95.0 L647.12 102.3 L647.25 112.7 L647.38 129.1 L647.50 143.2 L647.62 147.8 L647.75 142.0 L647.88 139.0 L648.00 142.6 L648.12 156.3 L648.25 171.0 L648.38 184.9 L648.50 180.3 L648.62 170.1 L648.75 171.4 L648.88 175.2 L649.00 195.0 L649.12 209.3 L649.25 214.2 L649.38 204.1 L649.50 196.1 L649.62 197.8 L649.75 208.9 L649.88 224.5 L650.00 236.3 L650.13 232.0 L650.26 214.2 L650.39 200.8 L650.52 205.7 L650.65 221.6 L650.78 235.3 L650.91 234.2 L651.04 221.5 L651.17 205.8 L651.30 203.7 L651.43 211.5 L651.56 229.7 L651.69 232.4 L651.82 229.4 L651.95 212.9 L652.08 202.4 L652.21 205.0 L652.34 217.7 L652.47 234.3 L652.60 234.3 L652.73 220.5 L652.85 204.7 L652.98 202.2 L653.10 208.9 L653.23 222.4 L653.35 233.0 L653.48 232.8 L653.60 221.4 L653.73 207.7 L653.85 207.0 L653.98 213.1 L654.10 227.0 L654.23 236.7 L654.35 232.5 L654.48 223.6 L654.60 214.3 L654.73 214.1 L654.85 220.5 L654.98 229.9 L655.10 232.5 L655.23 233.3 L655.37 226.1 L655.50 225.8 L655.63 231.9 L655.77 243.3 L655.90 254.4 L656.03 260.1 L656.17 262.4 L656.30 264.5 L656.43 267.0 L656.57 272.4 L656.70 276.1 L656.83 265.9 L656.95 254.6 L657.08 243.7 L657.20 234.1 L657.33 226.7 L657.45 223.6 L657.58 221.3 L657.71 214.6 L657.83 207.2 L657.96 196.7 L658.08 189.0 L658.21 188.0 L658.33 187.5 L658.46 185.6 L658.59 180.0 L658.71 171.2 L658.84 161.1 L658.96 157.3 L659.09 158.8 L659.21 161.8 L659.34 158.8 L659.47 150.6 L659.59 141.0 L659.72 131.5 L659.84 133.3 L659.97 137.0 L660.09 139.3 L660.22 132.6 L660.35 122.7 L660.47 112.8 L660.60 107.9 L660.72 113.9 L660.85 119.1 L660.97 121.1 L661.10 96.9 L661.23 104.3 L661.35 107.5 L661.48 122.1 L661.60 138.2 L661.73 150.6 L661.85 152.9 L661.98 144.5 L662.10 138.0 L662.23 146.4 L662.35 164.2 L662.48 184.0 L662.60 183.6 L662.73 178.8 L662.85 170.2 L662.98 172.6 L663.10 184.5 L663.23 205.9 L663.35 220.3 L663.48 208.2 L663.60 196.2 L663.73 188.4 L663.85 195.3 L663.98 218.3 L664.10 237.2 L664.23 233.3 L664.36 215.7 L664.49 200.8 L664.62 194.6 L664.75 215.9 L664.88 231.5 L665.01 238.0 L665.14 220.0 L665.27 203.4 L665.40 193.5 L665.53 209.7 L665.66 229.8 L665.79 237.8 L665.92 225.8 L666.05 203.3 L666.18 194.3 L666.31 201.3 L666.44 219.9 L666.57 238.0 L666.70 226.2 L666.83 210.1 L666.96 199.7 L667.09 199.5 L667.23 213.8 L667.36 233.4 L667.49 232.6 L667.62 219.6 L667.75 202.0 L667.88 202.5 L668.02 211.1 L668.15 227.2 L668.28 237.0 L668.41 229.9 L668.54 214.8 L668.67 207.7 L668.81 211.3 L668.94 222.6 L669.07 235.1 L669.20 233.7 L669.33 223.9 L669.47 218.0 L669.60 219.8 L669.73 231.4 L669.87 246.4 L670.00 254.0 L670.13 258.1 L670.27 258.1 L670.40 262.3 L670.53 268.4 L670.67 274.1 L670.80 276.1 L670.93 264.8 L671.05 252.2 L671.18 241.0 L671.31 232.0 L671.44 226.1 L671.56 222.5 L671.69 217.5 L671.82 210.8 L671.95 201.4 L672.07 190.8 L672.20 185.7 L672.33 185.1 L672.45 185.9 L672.58 181.0 L672.71 174.3 L672.84 163.4 L672.96 154.7 L673.09 152.3 L673.22 154.8 L673.35 155.6 L673.47 153.6 L673.60 143.2 L673.73 133.1 L673.85 126.2 L673.98 127.5 L674.11 131.1 L674.24 134.4 L674.36 127.5 L674.49 114.7 L674.62 103.1 L674.75 100.9 L674.87 106.0 L675.00 95.0 L675.12 122.5 L675.25 123.4 L675.38 115.7 L675.50 116.9 L675.62 126.9 L675.75 147.1 L675.88 162.1 L676.00 163.9 L676.12 156.2 L676.25 142.9 L676.38 145.9 L676.50 166.3 L676.62 192.5 L676.75 203.7 L676.88 195.2 L677.00 177.5 L677.12 170.7 L677.25 179.3 L677.38 205.7 L677.50 228.0 L677.62 232.3 L677.75 209.3 L677.88 187.8 L678.00 193.4 L678.13 213.2 L678.26 239.2 L678.39 246.5 L678.52 223.0 L678.65 193.6 L678.78 181.2 L678.91 208.1 L679.04 236.1 L679.17 248.7 L679.30 226.1 L679.43 197.8 L679.56 177.8 L679.69 203.3 L679.82 228.9 L679.95 238.2 L680.08 232.1 L680.21 198.2 L680.34 183.4 L680.47 198.1 L680.60 223.0 L680.73 241.7 L680.85 237.2 L680.98 210.2 L681.10 187.4 L681.23 185.9 L681.35 211.0 L681.48 233.4 L681.60 245.4 L681.73 223.0 L681.85 200.5 L681.98 193.6 L682.10 201.8 L682.23 224.1 L682.35 245.3 L682.48 234.2 L682.60 217.4 L682.73 203.1 L682.85 202.0 L682.98 217.4 L683.10 233.6 L683.23 239.0 L683.35 230.3 L683.48 213.3 L683.60 205.5 L683.73 212.4 L683.87 228.8 L684.00 243.8 L684.13 241.6 L684.27 235.8 L684.40 232.4 L684.53 241.8 L684.67 254.1 L684.80 262.9 L684.93 266.9 L685.07 265.0 L685.20 266.9 L685.33 250.3 L685.45 241.4 L685.58 235.0 L685.70 230.0 L685.83 220.8 L685.95 210.8 L686.08 200.5 L686.21 193.9 L686.33 191.9 L686.46 190.5 L686.58 187.8 L686.71 179.8 L686.84 170.0 L686.96 161.8 L687.09 156.3 L687.21 157.9 L687.34 159.1 L687.46 156.2 L687.59 148.8 L687.72 138.4 L687.84 131.4 L687.97 126.6 L688.09 130.7 L688.22 133.1 L688.35 130.6 L688.47 121.8 L688.60 109.8 L688.72 101.0 L688.85 101.6 L688.97 108.0 L689.10 93.7 L689.23 121.8 L689.35 117.7 L689.48 111.8 L689.60 112.1 L689.73 125.8 L689.85 143.6 L689.98 161.0 L690.10 161.5 L690.23 152.7 L690.35 147.3 L690.48 142.2 L690.60 161.0 L690.73 180.8 L690.85 190.8 L690.98 189.4 L691.10 178.5 L691.23 164.9 L691.35 174.5 L691.48 193.9 L691.60 219.5 L691.73 227.2 L691.85 211.7 L691.98 191.6 L692.10 184.4 L692.23 194.1 L692.36 220.4 L692.49 239.8 L692.62 230.8 L692.75 204.4 L692.88 190.2 L693.01 187.3 L693.14 210.5 L693.27 233.3 L693.40 230.3 L693.53 211.4 L693.66 187.9 L693.79 187.0 L693.92 202.7 L694.05 221.7 L694.18 231.5 L694.31 213.6 L694.44 191.7 L694.57 186.3 L694.70 195.8 L694.83 219.8 L694.96 231.6 L695.09 222.1 L695.22 199.5 L695.35 180.5 L695.48 193.8 L695.61 215.9 L695.74 231.7 L695.87 226.3 L696.00 204.3 L696.13 190.5 L696.26 190.8 L696.39 212.9 L696.51 230.4 L696.64 228.5 L696.77 211.1 L696.90 195.1 L697.03 195.3 L697.16 212.1 L697.29 226.7 L697.42 233.4 L697.55 216.7 L697.68 202.0 L697.81 196.0 L697.94 211.5 L698.07 226.3 L698.20 230.4 L698.33 220.2 L698.47 209.2 L698.60 212.5 L698.73 225.5 L698.87 242.6 L699.00 254.4 L699.13 255.1 L699.27 256.0 L699.40 260.2 L699.53 268.0 L699.67 275.2 L699.80 276.1 L699.93 261.9 L700.06 247.3 L700.18 234.7 L700.31 226.1 L700.44 220.4 L700.57 216.7 L700.69 209.2 L700.82 198.7 L700.95 187.8 L701.08 180.0 L701.20 176.6 L701.33 176.1 L701.46 174.0 L701.59 166.8 L701.71 155.3 L701.84 144.0 L701.97 138.9 L702.10 141.2 L702.22 141.9 L702.35 139.7 L702.48 130.1 L702.61 119.2 L702.73 107.8 L702.86 108.5 L702.99 113.6 L703.12 117.7 L703.24 113.4 L703.37 99.4 L703.50 86.5 L703.62 90.8 L703.75 104.2 L703.88 121.9 L704.00 135.4 L704.12 135.5 L704.25 131.3 L704.38 126.3 L704.50 127.6 L704.62 144.0 L704.75 159.5 L704.88 168.8 L705.00 173.2 L705.12 162.1 L705.25 154.3 L705.38 160.4 L705.50 174.7 L705.62 195.9 L705.75 205.0 L705.88 199.1 L706.00 188.3 L706.12 179.7 L706.25 185.8 L706.38 202.5 L706.50 223.1 L706.63 230.5 L706.76 212.2 L706.89 194.6 L707.02 190.7 L707.15 196.5 L707.28 213.7 L707.41 225.9 L707.54 224.0 L707.67 203.0 L707.80 191.2 L707.93 187.3 L708.06 201.3 L708.19 222.2 L708.32 227.9 L708.45 210.0 L708.58 191.6 L708.71 186.6 L708.84 191.4 L708.97 210.0 L709.10 219.2 L709.23 213.2 L709.35 199.9 L709.48 183.6 L709.60 189.8 L709.73 201.7 L709.86 215.0 L709.98 224.6 L710.11 208.8 L710.23 196.6 L710.36 185.9 L710.49 197.7 L710.61 213.5 L710.74 220.0 L710.86 215.6 L710.99 203.9 L711.11 192.0 L711.24 193.3 L711.37 208.4 L711.49 218.5 L711.62 223.5 L711.74 213.0 L711.87 200.7 L712.00 194.2 L712.12 205.8 L712.25 219.0 L712.37 224.4 L712.50 215.9 L712.63 208.1 L712.77 203.8 L712.90 213.8 L713.03 230.0 L713.17 242.3 L713.30 248.2 L713.43 249.8 L713.57 253.2 L713.70 263.8 L713.83 273.1 L713.97 278.1 L714.10 278.1 L714.23 261.4 L714.35 247.5 L714.48 238.5 L714.61 232.0 L714.73 226.2 L714.86 218.8 L714.99 207.8 L715.11 197.0 L715.24 189.8 L715.37 186.7 L715.49 186.7 L715.62 182.8 L715.75 173.1 L715.87 162.0 L716.00 154.6 L716.13 149.7 L716.25 152.7 L716.38 153.8 L716.51 145.9 L716.63 134.8 L716.76 122.0 L716.89 117.9 L717.01 121.6 L717.14 124.9 L717.27 123.5 L717.39 114.7 L717.52 101.0 L717.65 90.9 L717.77 91.8 L717.90 86.5 L718.02 114.9 L718.15 117.3 L718.27 114.8 L718.40 111.6 L718.52 113.9 L718.65 125.9 L718.77 143.6 L718.90 155.8 L719.02 151.3 L719.15 145.4 L719.27 138.6 L719.40 143.0 L719.52 159.9 L719.65 175.3 L719.77 187.5 L719.90 182.5 L720.02 170.8 L720.15 162.7 L720.27 173.2 L720.40 188.4 L720.52 205.1 L720.65 213.0 L720.77 202.7 L720.90 190.1 L721.03 179.2 L721.16 190.6 L721.29 204.8 L721.42 217.6 L721.55 213.9 L721.68 199.9 L721.81 187.1 L721.94 180.3 L722.07 192.4 L722.20 208.4 L722.33 211.8 L722.46 209.1 L722.59 190.7 L722.72 182.6 L722.85 182.9 L722.98 198.0 L723.11 214.1 L723.24 212.5 L723.37 199.9 L723.50 184.0 L723.63 182.0 L723.76 189.7 L723.89 202.8 L724.02 214.5 L724.15 207.4 L724.27 194.4 L724.40 184.6 L724.53 185.3 L724.66 197.9 L724.79 208.0 L724.92 216.8 L725.05 204.4 L725.18 194.2"/>
<path fill="none" stroke="#7E2F8E" stroke-width="2.8" stroke-linejoin="round" stroke-linecap="round" d="M724.92 216.8 L725.05 204.4 L725.18 194.2 L725.31 187.2 L725.44 194.0 L725.57 206.6 L725.70 215.6 L725.83 211.0 L725.95 201.1 L726.08 195.6 L726.21 196.8 L726.34 204.2 L726.47 214.8 L726.60 213.8 L726.73 207.0 L726.87 202.7 L727.00 204.9 L727.13 219.2 L727.27 235.0 L727.40 244.5 L727.53 248.0 L727.67 249.8 L727.80 257.1 L727.93 265.2 L728.07 271.1 L728.20 272.4 L728.33 259.5 L728.46 247.5 L728.58 236.9 L728.71 230.0 L728.84 225.9 L728.97 221.9 L729.10 214.3 L729.23 204.7 L729.35 196.0 L729.48 191.5 L729.61 189.6 L729.74 188.8 L729.87 182.4 L729.99 174.4 L730.12 165.7 L730.25 160.2 L730.38 160.6 L730.51 160.7 L730.63 157.8 L730.76 150.1 L730.89 140.4 L731.02 134.3 L731.15 135.6 L731.27 136.5 L731.40 135.7 L731.53 129.7 L731.66 119.8 L731.79 112.0 L731.92 111.6 L732.04 114.9 L732.17 117.8 L732.30 101.4 L732.42 112.3 L732.55 110.6 L732.67 118.9 L732.80 128.4 L732.92 140.9 L733.05 148.4 L733.17 145.8 L733.30 141.9 L733.42 140.8 L733.55 148.2 L733.67 161.0 L733.80 171.1 L733.92 173.1 L734.05 169.1 L734.17 164.0 L734.30 167.8 L734.42 177.3 L734.55 189.0 L734.67 198.8 L734.80 193.8 L734.92 186.7 L735.05 184.3 L735.17 189.7 L735.30 200.7 L735.43 209.3 L735.56 214.0 L735.69 202.1 L735.82 188.2 L735.95 188.7 L736.08 193.9 L736.21 204.1 L736.34 214.1 L736.47 207.4 L736.60 193.6 L736.73 185.4 L736.86 187.6 L736.99 197.4 L737.12 207.3 L737.25 209.2 L737.38 198.7 L737.51 188.6 L737.64 185.8 L737.77 188.6 L737.90 201.3 L738.03 206.1 L738.16 207.0 L738.28 194.9 L738.41 186.2 L738.54 187.4 L738.67 194.4 L738.80 205.9 L738.92 208.0 L739.05 203.0 L739.18 194.6 L739.31 189.6 L739.44 189.6 L739.56 200.3 L739.69 210.8 L739.82 208.2 L739.95 204.8 L740.08 195.7 L740.20 194.4 L740.33 197.5 L740.46 205.6 L740.59 210.5 L740.72 209.2 L740.84 203.4 L740.97 195.5 L741.10 194.6 L741.23 202.7 L741.37 211.7 L741.50 218.6 L741.63 222.2 L741.77 224.6 L741.90 229.4 L742.03 241.0 L742.17 253.0 L742.30 260.0 L742.43 264.7 L742.57 264.5 L742.70 268.2 L742.83 254.1 L742.95 246.8 L743.08 241.0 L743.21 233.6 L743.34 225.1 L743.46 215.6 L743.59 209.8 L743.72 205.8 L743.85 203.6 L743.97 200.2 L744.10 194.7 L744.23 185.9 L744.35 179.6 L744.48 176.3 L744.61 175.3 L744.74 175.2 L744.86 170.8 L744.99 162.9 L745.12 155.5 L745.25 150.3 L745.37 150.8 L745.50 153.1 L745.63 150.8 L745.75 143.4 L745.88 135.5 L746.01 128.2 L746.14 129.0 L746.26 132.1 L746.39 130.9 L746.52 127.7 L746.65 117.8 L746.77 108.9 L746.90 108.6 L747.02 120.8 L747.15 129.9 L747.27 137.3 L747.40 133.9 L747.52 129.6 L747.65 134.1 L747.77 143.0 L747.90 155.3 L748.02 160.5 L748.15 159.0 L748.27 154.6 L748.40 152.0 L748.52 160.6 L748.65 171.3 L748.77 181.1 L748.90 182.9 L749.02 176.8 L749.15 169.7 L749.27 171.0 L749.40 183.1 L749.52 195.4 L749.65 203.1 L749.77 197.1 L749.90 187.5 L750.03 185.1 L750.16 186.6 L750.29 200.5 L750.42 206.4 L750.55 202.4 L750.68 190.7 L750.81 181.8 L750.94 186.0 L751.07 194.3 L751.20 202.0 L751.33 201.5 L751.46 193.0 L751.59 183.5 L751.72 178.0 L751.85 188.6 L751.98 197.3 L752.11 204.3 L752.24 195.8 L752.37 186.5 L752.50 178.0 L752.63 182.5 L752.76 193.7 L752.89 202.9 L753.02 199.2 L753.15 192.6 L753.28 183.6 L753.41 186.1 L753.54 192.0 L753.66 201.0 L753.79 205.1 L753.92 200.8 L754.05 194.5 L754.18 189.8 L754.31 193.0 L754.44 199.2 L754.57 206.4 L754.70 204.2 L754.83 201.0 L754.97 197.5 L755.10 202.6 L755.23 211.4 L755.37 224.8 L755.50 233.7 L755.63 239.3 L755.77 242.5 L755.90 246.9 L756.03 253.1 L756.17 258.9 L756.30 261.2 L756.42 253.3 L756.55 244.8 L756.67 236.6 L756.80 230.1 L756.92 225.6 L757.05 223.5 L757.17 220.9 L757.30 216.1 L757.42 209.5 L757.55 203.7 L757.67 198.8 L757.80 196.5 L757.92 196.1 L758.05 193.5 L758.17 189.6 L758.30 183.9 L758.42 178.7 L758.55 175.3 L758.67 174.6 L758.80 174.3 L758.92 172.6 L759.05 167.9 L759.17 162.8 L759.30 157.1 L759.42 155.5 L759.55 156.1 L759.67 156.5 L759.80 154.6 L759.92 149.4 L760.05 143.2 L760.17 140.8 L760.30 139.2 L760.42 140.2 L760.55 140.6 L760.67 136.8 L760.80 131.6 L760.92 125.8 L761.05 124.1 L761.17 125.2 L761.30 120.5 L761.43 127.5 L761.56 126.3 L761.68 124.0 L761.81 124.5 L761.94 128.5 L762.07 135.1 L762.20 141.2 L762.32 143.9 L762.45 143.6 L762.58 145.8 L762.71 150.9 L762.84 159.1 L762.96 166.1 L763.09 170.4 L763.22 172.2 L763.35 173.5 L763.48 177.3 L763.60 184.1 L763.73 190.6 L763.86 193.9 L763.99 194.4 L764.12 192.2 L764.24 192.7 L764.37 196.1 L764.50 200.5 L764.63 201.1 L764.76 199.1 L764.89 193.8 L765.02 190.0 L765.15 189.6 L765.28 191.2 L765.41 190.7 L765.54 186.7 L765.66 180.6 L765.79 175.0 L765.92 173.5 L766.05 174.7 L766.18 174.7 L766.31 173.3 L766.44 168.8 L766.57 165.3 L766.70 164.3 L766.83 167.7 L766.95 171.4 L767.08 174.6 L767.20 172.9 L767.33 171.3 L767.45 172.9 L767.58 176.9 L767.70 182.9 L767.83 188.3 L767.95 190.9 L768.08 192.7 L768.20 194.3 L768.33 197.9 L768.45 205.0 L768.58 211.9 L768.70 218.5 L768.83 221.3 L768.95 223.2 L769.08 226.0 L769.20 230.8 L769.33 237.0 L769.45 243.1 L769.58 247.4 L769.70 248.9 L769.83 249.7 L769.95 251.1 L770.08 254.5 L770.20 258.8"/>
<path fill="none" stroke="#7E2F8E" stroke-width="2.6" stroke-linejoin="round" stroke-linecap="round" d="M769.83 249.7 L769.95 251.1 L770.08 254.5 L770.20 258.8 L770.33 261.7 L770.45 262.9 L770.58 261.7 L770.70 263.2 L770.83 249.9 L770.95 241.8 L771.08 236.1 L771.21 231.1 L771.34 224.0 L771.46 216.1 L771.59 208.4 L771.72 203.5 L771.85 200.4 L771.97 198.1 L772.10 194.8 L772.23 188.8 L772.35 182.1 L772.48 176.4 L772.61 172.9 L772.74 171.4 L772.86 169.8 L772.99 166.8 L773.12 161.5 L773.25 155.3 L773.37 150.7 L773.50 148.0 L773.63 148.2 L773.75 147.2 L773.88 143.8 L774.01 138.1 L774.14 132.4 L774.26 128.9 L774.39 127.5 L774.52 128.2 L774.65 126.4 L774.77 123.8 L774.90 114.9 L775.02 114.9 L775.15 114.9 L775.27 119.2 L775.40 123.8 L775.52 127.1 L775.65 128.1 L775.77 127.7 L775.90 129.3 L776.02 132.6 L776.15 139.2 L776.27 146.0 L776.40 150.0 L776.52 151.5 L776.65 152.5 L776.77 156.2 L776.90 161.7 L777.02 168.4 L777.15 173.5 L777.27 176.5 L777.40 177.8 L777.52 179.1 L777.65 181.2 L777.77 185.9 L777.90 190.0 L778.02 191.7 L778.15 191.9 L778.27 190.8 L778.40 189.9 L778.53 190.6 L778.66 192.1 L778.79 192.8 L778.92 190.6 L779.05 187.2 L779.18 183.9 L779.31 181.9 L779.44 182.0 L779.57 181.3 L779.70 179.1 L779.83 174.8 L779.96 171.0 L780.09 168.2 L780.22 168.2 L780.35 168.3 L780.48 166.6 L780.61 164.3 L780.74 161.4 L780.87 160.3 L781.00 161.6 L781.13 164.1 L781.25 165.0 L781.38 164.8 L781.51 164.7 L781.63 165.6 L781.76 168.6 L781.89 172.8 L782.01 176.5 L782.14 179.6 L782.26 181.4 L782.39 184.1 L782.52 187.8 L782.64 193.6 L782.77 198.9 L782.90 203.6 L783.02 207.1 L783.15 210.3 L783.28 214.2 L783.40 219.9 L783.53 225.4 L783.66 230.6 L783.78 233.9 L783.91 236.5 L784.04 239.7 L784.16 243.4 L784.29 247.7 L784.41 251.3 L784.54 254.0 L784.67 255.2 L784.79 255.8 L784.92 257.3 L785.05 259.1 L785.17 260.5 L785.30 261.0 L785.42 251.2 L785.55 242.0 L785.67 234.3 L785.80 228.0 L785.92 222.8 L786.05 218.3 L786.17 213.2 L786.30 207.5 L786.42 201.8 L786.55 197.0 L786.67 192.8 L786.80 190.0 L786.92 187.1 L787.05 182.9 L787.17 178.1 L787.30 173.4 L787.42 169.7 L787.55 166.7 L787.67 165.0 L787.80 162.4 L787.92 158.9 L788.05 154.4 L788.17 150.4 L788.30 146.7 L788.42 145.2 L788.55 144.1 L788.67 141.7 L788.80 138.4 L788.92 134.0 L789.05 130.4 L789.17 127.0 L789.30 125.0 L789.43 128.0 L789.56 129.5 L789.68 128.9 L789.81 128.1 L789.94 128.2 L790.07 130.2 L790.20 134.1 L790.32 138.1 L790.45 139.8 L790.58 141.1 L790.71 142.0 L790.84 144.6 L790.97 148.4 L791.09 153.4 L791.22 157.4 L791.35 160.3 L791.48 161.6 L791.61 163.5 L791.73 166.3 L791.86 170.6 L791.99 175.5 L792.12 178.3 L792.25 180.0 L792.38 180.7 L792.50 181.5 L792.63 184.1 L792.76 187.4 L792.89 189.8 L793.02 190.8 L793.14 190.4 L793.27 189.2 L793.40 189.1 L793.52 190.1 L793.65 191.2 L793.77 191.3 L793.90 189.6 L794.02 186.9 L794.15 184.5 L794.27 183.4 L794.40 183.1 L794.52 182.7 L794.65 181.4 L794.77 178.6 L794.90 175.3 L795.02 172.7 L795.15 172.0 L795.27 172.8 L795.40 172.3 L795.52 171.1 L795.65 168.8 L795.77 167.0 L795.90 166.5 L796.03 168.7 L796.15 171.3 L796.28 172.3 L796.40 172.4 L796.53 172.6 L796.65 174.5 L796.78 177.6 L796.91 182.2 L797.03 186.7 L797.16 189.1 L797.28 191.2 L797.41 194.2 L797.54 198.3 L797.66 203.8 L797.79 209.4 L797.91 213.0 L798.04 216.2 L798.16 219.1 L798.29 223.0 L798.42 227.7 L798.54 232.5 L798.67 236.5 L798.79 238.9 L798.92 240.6 L799.05 242.6 L799.17 245.4 L799.30 248.1 L799.42 250.5 L799.55 251.0 L799.67 250.8 L799.80 251.9 L799.93 242.1 L800.05 236.0 L800.18 230.8"/>
<path fill="none" stroke="#7E2F8E" stroke-width="2.7" stroke-linejoin="round" stroke-linecap="round" d="M799.80 251.9 L799.93 242.1 L800.05 236.0 L800.18 230.8 L800.31 225.3 L800.44 219.6 L800.56 214.2 L800.69 209.6 L800.82 205.9 L800.95 202.8 L801.07 199.2 L801.20 195.3 L801.33 190.9 L801.45 187.0 L801.58 183.9 L801.71 181.7 L801.84 179.0 L801.96 176.1 L802.09 172.6 L802.22 169.1 L802.35 166.1 L802.47 164.0 L802.60 162.0 L802.73 159.8 L802.85 156.9 L802.98 153.7 L803.11 150.7 L803.24 148.6 L803.36 146.8 L803.49 144.9 L803.62 142.6 L803.75 140.1 L803.87 137.2 L804.00 135.0 L804.13 135.3 L804.25 136.1 L804.38 136.9 L804.51 137.4 L804.63 137.8 L804.76 138.4 L804.89 139.6 L805.01 141.3 L805.14 143.3 L805.26 145.1 L805.39 146.7 L805.52 147.9 L805.64 149.4 L805.77 151.5 L805.90 154.0 L806.02 156.7 L806.15 158.8 L806.28 160.5 L806.40 162.1 L806.53 163.7 L806.66 166.1 L806.78 168.4 L806.91 170.9 L807.04 172.6 L807.16 173.7 L807.29 174.7 L807.41 175.9 L807.54 177.2 L807.67 178.8 L807.79 180.2 L807.92 180.7 L808.05 180.6 L808.17 180.4 L808.30 180.4 L808.43 180.6 L808.56 180.9 L808.69 180.3 L808.81 179.2 L808.94 177.6 L809.07 176.1 L809.20 174.8 L809.33 174.2 L809.46 173.6 L809.59 172.6 L809.71 171.2 L809.84 170.0 L809.97 169.4 L810.10 169.5 L810.23 170.2 L810.36 171.0 L810.48 171.6 L810.61 172.0 L810.74 172.8 L810.87 174.6 L810.99 176.7 L811.12 179.3 L811.25 181.5 L811.38 183.7 L811.51 185.8 L811.63 188.4 L811.76 191.7 L811.89 195.3 L812.02 198.7 L812.14 201.9 L812.27 204.8 L812.40 207.8 L812.53 211.2 L812.66 214.9 L812.78 218.6 L812.91 221.8 L813.04 224.5 L813.17 227.2 L813.29 229.9 L813.42 232.8 L813.55 235.7 L813.68 238.0 L813.81 239.8 L813.93 241.3 L814.06 242.8 L814.19 244.2 L814.32 245.5 L814.44 246.5 L814.57 246.7 L814.70 246.9 L814.83 240.5 L814.95 235.4 L815.08 231.3 L815.21 227.5 L815.33 223.7 L815.46 219.9 L815.58 216.3 L815.71 213.1 L815.84 210.4 L815.96 207.8 L816.09 205.2 L816.22 202.3 L816.34 199.4 L816.47 196.7 L816.59 194.6 L816.72 192.6 L816.85 190.6 L816.97 188.3 L817.10 185.8 L817.23 183.4 L817.35 181.4 L817.48 179.7 L817.61 178.3 L817.73 176.3 L817.86 174.0 L817.98 171.6 L818.11 169.5 L818.24 168.2 L818.36 166.9 L818.49 165.5 L818.62 163.6 L818.74 161.4 L818.87 159.3 L818.99 157.8 L819.12 156.6 L819.25 155.6 L819.37 154.1 L819.50 151.4 L819.63 151.5 L819.75 151.6 L819.88 152.3 L820.01 153.3 L820.13 154.2 L820.26 155.1 L820.38 155.3 L820.51 155.8 L820.64 156.8 L820.76 158.1 L820.89 159.7 L821.02 160.9 L821.14 161.2 L821.27 161.4 L821.39 161.6 L821.52 162.3 L821.65 163.3 L821.77 164.0 L821.90 164.3 L822.02 163.7 L822.15 162.8 L822.27 162.0 L822.40 161.6 L822.52 161.3 L822.65 160.7 L822.77 159.6 L822.90 158.2 L823.02 156.5 L823.15 155.2 L823.27 154.6 L823.40 154.4 L823.52 154.2 L823.65 153.4 L823.77 152.6 L823.90 152.1 L824.03 152.1 L824.15 152.8 L824.28 154.0 L824.40 155.4 L824.53 156.3 L824.65 157.4 L824.78 158.6 L824.90 160.8 L825.03 163.4 L825.16 166.3 L825.28 169.1 L825.41 171.8 L825.53 174.4 L825.66 177.2 L825.78 180.6 L825.91 184.5 L826.03 188.5 L826.16 192.3 L826.29 195.8 L826.41 199.2 L826.54 202.8 L826.66 206.8 L826.79 211.0 L826.91 215.2 L827.04 219.0 L827.17 222.3 L827.29 225.5 L827.42 228.9 L827.54 232.4 L827.67 236.0 L827.79 239.3 L827.92 242.0 L828.04 244.4 L828.17 246.6 L828.30 248.8 L828.42 251.1 L828.55 253.2 L828.67 254.8 L828.80 255.8 L828.92 256.4 L829.05 256.9 L829.17 257.5 L829.30 258.1 L829.42 251.8 L829.55 246.1 L829.67 240.7 L829.80 235.7 L829.92 231.3 L830.05 227.6 L830.17 224.1 L830.30 220.5 L830.42 216.7 L830.55 213.0 L830.67 209.8 L830.80 206.8 L830.92 204.1 L831.05 201.4 L831.17 198.4 L831.30 195.4 L831.42 192.4 L831.55 189.8 L831.67 187.6 L831.80 185.5 L831.92 183.1 L832.05 180.4 L832.17 177.7 L832.30 175.3 L832.42 173.2 L832.55 171.5 L832.67 169.5 L832.80 167.3 L832.92 164.7 L833.05 162.3 L833.17 160.3 L833.30 158.8 L833.42 157.2 L833.55 155.2 L833.67 152.9 L833.80 150.5 L833.92 148.6 L834.05 147.0 L834.17 145.7 L834.30 144.0 L834.42 142.1 L834.55 139.8 L834.67 137.7 L834.80 136.0 L834.92 134.9 L835.05 133.8 L835.17 132.1 L835.30 129.3 L835.43 129.3 L835.56 129.3 L835.68 130.0 L835.81 130.9 L835.94 131.4 L836.07 131.5 L836.19 131.3 L836.32 131.5 L836.45 132.1 L836.58 133.3 L836.71 134.3 L836.83 134.5 L836.96 134.5 L837.09 134.4 L837.22 134.7 L837.34 135.1 L837.47 135.8 L837.60 136.1 L837.73 136.0 L837.85 135.9 L837.98 136.1 L838.11 137.4 L838.24 139.3 L838.36 141.4 L838.49 143.5 L838.62 145.2 L838.74 147.1 L838.87 149.3 L839.00 152.7 L839.12 156.4 L839.25 160.3 L839.38 163.8 L839.51 166.9 L839.63 170.3 L839.76 174.1 L839.89 178.8 L840.01 183.8 L840.14 188.4 L840.27 192.8 L840.40 196.8 L840.52 200.8 L840.65 205.4 L840.78 210.6 L840.90 215.9 L841.03 220.7 L841.16 224.7 L841.29 228.5 L841.41 232.4 L841.54 236.7 L841.67 241.5 L841.79 245.8 L841.92 249.6 L842.05 252.8 L842.18 255.5 L842.30 258.5 L842.43 261.7 L842.56 265.0 L842.68 268.1 L842.81 270.0 L842.94 271.3 L843.06 272.2 L843.19 273.5 L843.32 275.1 L843.45 276.6 L843.57 277.5 L843.70 277.0 L843.83 273.6 L843.95 270.4 L844.08 267.6 L844.21 265.4 L844.33 263.2 L844.46 260.0 L844.59 256.5 L844.71 252.5 L844.84 249.0 L844.97 246.2 L845.09 243.5 L845.22 240.3 L845.34 236.7 L845.47 232.2 L845.60 227.7 L845.72 224.1 L845.85 220.9 L845.98 217.6 L846.10 213.7 L846.23 209.3 L846.36 204.5 L846.48 200.4 L846.61 196.7 L846.74 193.3 L846.86 189.7 L846.99 185.5 L847.12 180.7 L847.24 176.3 L847.37 172.7 L847.50 169.4 L847.62 166.2 L847.75 162.4 L847.88 158.4 L848.00 154.0 L848.13 150.8 L848.26 148.0 L848.38 145.6 L848.51 142.7 L848.63 139.3 L848.76 135.9 L848.89 133.0 L849.01 130.8 L849.14 129.2 L849.27 127.7 L849.39 125.5 L849.52 122.8 L849.65 120.5 L849.77 119.1 L849.90 118.6 L850.03 120.2 L850.15 121.3 L850.28 121.8 L850.40 122.3 L850.53 123.5 L850.66 125.3 L850.78 127.7 L850.91 129.7 L851.04 130.9 L851.16 131.9 L851.29 133.2 L851.41 135.4 L851.54 138.2 L851.67 140.9 L851.79 142.9 L851.92 144.5 L852.04 146.2 L852.17 148.7 L852.30 151.6 L852.42 154.7 L852.55 157.8 L852.68 159.8 L852.80 161.7 L852.93 164.1 L853.05 167.1 L853.18 170.5 L853.31 173.8 L853.43 176.6 L853.56 179.0 L853.68 181.3 L853.81 184.1 L853.94 187.5 L854.06 191.2 L854.19 194.4 L854.32 197.1 L854.44 199.4 L854.57 201.9 L854.69 204.9 L854.82 208.5 L854.95 212.2 L855.07 215.1 L855.20 217.6 L855.32 219.7 L855.45 222.3 L855.58 225.3 L855.70 228.7 L855.83 232.2 L855.96 234.6 L856.08 236.7 L856.21 238.6 L856.33 240.8 L856.46 243.9 L856.59 247.0 L856.71 250.0 L856.84 252.0 L856.96 253.7 L857.09 255.5 L857.22 257.6 L857.34 260.2 L857.47 263.1 L857.60 265.3 L857.72 267.2 L857.85 268.6 L857.97 270.1 L858.10 272.2 L858.23 270.0 L858.35 267.8 L858.48 265.3 L858.60 262.0 L858.73 258.3 L858.85 255.0 L858.98 251.7 L859.10 249.3 L859.23 246.5 L859.36 243.2 L859.48 239.3 L859.61 235.0 L859.73 230.9 L859.86 227.6 L859.98 224.5 L860.11 221.1 L860.23 217.2 L860.36 212.7 L860.49 207.9 L860.61 203.8 L860.74 200.1 L860.86 196.8 L860.99 193.0 L861.11 188.9 L861.24 184.2 L861.36 179.5 L861.49 175.7 L861.61 172.4 L861.74 169.2 L861.87 165.6 L861.99 161.5 L862.12 157.3 L862.24 153.2 L862.37 150.3 L862.49 147.8 L862.62 145.0 L862.74 142.2 L862.87 138.7 L863.00 135.4 L863.12 132.9 L863.25 130.9 L863.37 129.3 L863.50 127.8 L863.62 125.3 L863.75 122.9 L863.87 121.1 L864.00 120.0 L864.13 121.6 L864.25 123.2 L864.38 124.2 L864.50 124.6 L864.63 125.3 L864.76 126.5 L864.88 128.7 L865.01 131.0 L865.14 132.8 L865.26 133.9 L865.39 135.0 L865.51 136.4 L865.64 138.8 L865.77 141.6 L865.89 144.0 L866.02 146.0 L866.14 147.4 L866.27 149.4 L866.40 151.9 L866.52 154.9 L866.65 158.0 L866.78 160.5 L866.90 162.3 L867.03 164.1 L867.15 166.9 L867.28 170.1 L867.41 173.4 L867.53 176.3 L867.66 178.8 L867.78 181.0 L867.91 183.3 L868.04 186.5 L868.16 190.0 L868.29 193.6 L868.42 196.0 L868.54 198.3 L868.67 200.6 L868.79 203.3 L868.92 206.8 L869.05 210.2 L869.17 213.1 L869.30 215.5 L869.42 217.6 L869.55 219.7 L869.68 223.0 L869.80 226.4 L869.93 229.4 L870.06 231.9 L870.18 233.6 L870.31 235.6 L870.43 237.8 L870.56 241.0 L870.69 244.1 L870.81 246.4 L870.94 248.4 L871.06 249.9 L871.19 251.5 L871.32 254.1 L871.44 256.8 L871.57 259.4 L871.70 261.5 L871.82 262.8 L871.95 264.1 L872.07 266.0 L872.20 268.4 L872.33 266.3 L872.45 264.0 L872.58 261.1 L872.70 257.7 L872.83 254.2 L872.95 251.3 L873.08 249.0 L873.20 246.7 L873.33 243.7 L873.45 240.3 L873.58 236.3 L873.70 232.3 L873.83 228.8 L873.95 226.0 L874.08 223.2 L874.20 219.8 L874.33 215.6 L874.45 211.2 L874.58 206.9 L874.70 203.0 L874.83 199.9 L874.95 196.8 L875.08 193.0 L875.20 188.7 L875.33 184.1 L875.45 179.8 L875.58 176.4 L875.70 173.3 L875.83 170.1 L875.95 166.8 L876.08 162.6 L876.20 158.5 L876.33 154.6 L876.45 151.6 L876.58 149.3 L876.70 146.6 L876.83 143.7 L876.95 140.4 L877.08 137.2 L877.20 134.2 L877.33 132.4 L877.45 130.9 L877.58 129.1 L877.70 127.0 L877.83 124.7 L877.95 122.6 L878.08 121.1 L878.20 120.3 L878.33 122.0 L878.45 123.3 L878.58 124.0 L878.71 124.4 L878.83 125.2 L878.96 126.6 L879.09 128.9 L879.21 130.8 L879.34 132.5 L879.47 133.6 L879.59 134.7 L879.72 136.5 L879.85 138.9 L879.97 141.7 L880.10 143.9 L880.23 145.8 L880.35 147.2 L880.48 149.0 L880.60 151.7 L880.73 154.7 L880.86 157.6 L880.98 160.1 L881.11 161.9 L881.24 163.8 L881.36 166.5 L881.49 169.7 L881.62 173.1 L881.74 176.0 L881.87 178.3 L882.00 180.3 L882.12 182.9 L882.25 185.9 L882.38 189.6 L882.50 192.9 L882.63 195.2 L882.76 197.4 L882.88 199.7 L883.01 202.7 L883.14 206.1 L883.26 209.5 L883.39 212.1 L883.52 214.2 L883.64 216.2 L883.77 219.0 L883.90 222.0 L884.02 225.3 L884.15 228.1 L884.27 230.1 L884.40 231.7 L884.53 233.7 L884.65 236.5 L884.78 239.7 L884.91 242.4 L885.03 244.4 L885.16 245.9 L885.29 247.3 L885.41 249.7 L885.54 252.4 L885.67 255.1 L885.79 257.0 L885.92 258.6 L886.05 259.9 L886.17 261.5 L886.30 263.9 L886.42 262.0 L886.55 259.9 L886.67 256.9 L886.80 253.6 L886.92 250.5 L887.05 247.8 L887.17 245.5 L887.30 243.3 L887.42 240.5 L887.55 236.7 L887.67 232.8 L887.80 229.4 L887.92 226.3 L888.05 223.6 L888.17 220.6 L888.30 217.2 L888.42 212.9 L888.55 208.5 L888.67 204.7 L888.80 201.6 L888.92 198.6 L889.05 195.5 L889.17 191.2 L889.30 186.9 L889.42 182.6 L889.55 179.0 L889.67 175.9 L889.80 173.0 L889.92 169.7 L890.05 165.9 L890.17 161.8 L890.30 158.0 L890.42 154.8 L890.55 152.3 L890.67 149.8 L890.80 147.2 L890.92 143.8 L891.05 140.4 L891.17 137.5 L891.30 135.2 L891.42 133.6 L891.55 132.1 L891.67 130.1 L891.80 127.8 L891.92 125.4 L892.05 123.6 L892.17 122.5 L892.30 121.9 L892.43 123.4 L892.55 124.1 L892.68 124.6 L892.80 124.9 L892.93 125.9 L893.06 127.5 L893.18 129.6 L893.31 131.5 L893.44 132.8 L893.56 133.5 L893.69 134.5 L893.81 135.9 L893.94 138.3 L894.07 140.7 L894.19 142.9 L894.32 144.6 L894.44 146.0 L894.57 147.5 L894.70 149.5 L894.82 152.4 L894.95 155.3 L895.08 157.5 L895.20 159.5 L895.33 161.0 L895.45 163.0 L895.58 165.9 L895.71 169.0 L895.83 172.1 L895.96 174.4 L896.08 176.2 L896.21 178.0 L896.34 180.6 L896.46 183.6 L896.59 186.8 L896.72 189.6 L896.84 191.8 L896.97 193.6 L897.09 195.9 L897.22 198.6 L897.35 201.8 L897.47 204.7 L897.60 207.1 L897.72 209.0 L897.85 210.8 L897.98 213.2 L898.10 216.1 L898.23 219.3 L898.36 221.5 L898.48 223.4 L898.61 224.8 L898.73 226.9 L898.86 229.3 L898.99 232.2 L899.11 234.7 L899.24 236.4 L899.36 237.7 L899.49 239.1 L899.62 241.1 L899.74 243.7 L899.87 246.1 L900.00 247.9 L900.12 249.1 L900.25 250.1 L900.37 251.9 L900.50 254.2 L900.63 252.4 L900.75 250.3 L900.88 247.1 L901.01 243.8 L901.13 240.8 L901.26 238.5 L901.39 236.5 L901.51 234.1 L901.64 230.8 L901.77 227.2 L901.89 223.6 L902.02 220.4 L902.15 217.8 L902.27 215.3 L902.40 211.9 L902.53 207.7 L902.65 203.5 L902.78 199.8 L902.91 196.8 L903.03 194.0 L903.16 190.7 L903.29 186.8 L903.41 182.4 L903.54 178.4 L903.67 175.1 L903.79 172.3 L903.92 169.6 L904.05 166.2 L904.17 162.2 L904.30 158.3 L904.43 155.2 L904.55 152.4 L904.68 150.2 L904.81 147.9 L904.93 144.9 L905.06 141.6 L905.19 138.7 L905.31 136.6 L905.44 134.9 L905.57 133.5 L905.69 131.8 L905.82 129.8 L905.95 127.6 L906.07 126.1 L906.20 124.9 L906.33 126.5 L906.45 127.8 L906.58 128.5 L906.70 129.1 L906.83 129.5 L906.96 130.3 L907.08 131.9 L907.21 134.0 L907.34 135.9 L907.46 136.9 L907.59 137.8 L907.71 138.7 L907.84 140.4 L907.97 142.4 L908.09 144.8 L908.22 146.9 L908.34 148.5 L908.47 149.7 L908.60 151.0 L908.72 153.2 L908.85 155.8 L908.98 158.6 L909.10 160.7 L909.23 162.6 L909.35 164.0 L909.48 165.8 L909.61 168.2 L909.73 171.3 L909.86 174.1 L909.98 176.4 L910.11 178.4 L910.24 180.1 L910.36 182.1 L910.49 184.8 L910.62 187.8 L910.74 190.7 L910.87 193.1 L910.99 194.7 L911.12 196.2 L911.25 198.5 L911.37 201.4 L911.50 204.3 L911.62 207.0 L911.75 208.9 L911.88 210.5 L912.00 212.2 L912.13 214.4 L912.26 217.1 L912.38 219.8 L912.51 222.2 L912.63 223.7 L912.76 224.9 L912.89 226.5 L913.01 228.7 L913.14 231.3 L913.26 233.8 L913.39 235.2 L913.52 236.4 L913.64 237.4 L913.77 239.3 L913.90 241.4 L914.02 243.7 L914.15 245.7 L914.27 246.8 L914.40 247.7 L914.53 245.1 L914.65 243.2 L914.78 241.8 L914.90 240.1 L915.03 237.6 L915.15 234.4 L915.28 231.5 L915.40 228.8 L915.53 227.0 L915.66 225.1 L915.78 222.3 L915.91 219.0 L916.03 215.5 L916.16 212.1 L916.28 209.6 L916.41 207.4 L916.53 204.8 L916.66 201.3 L916.79 197.4 L916.91 193.7 L917.04 190.9 L917.16 188.3 L917.29 185.8 L917.41 182.4 L917.54 178.8 L917.66 175.0 L917.79 171.8 L917.91 169.2 L918.04 166.9 L918.17 164.3 L918.29 160.9 L918.42 157.3 L918.54 154.4 L918.67 151.9 L918.79 150.1 L918.92 148.4 L919.04 145.9 L919.17 142.9 L919.30 140.3 L919.42 138.2 L919.55 136.9 L919.67 135.8 L919.80 134.5 L919.92 132.5 L920.05 130.5 L920.17 128.8 L920.30 128.2 L920.43 129.7 L920.55 130.9 L920.68 131.9 L920.80 132.1 L920.93 132.3 L921.05 133.3 L921.18 135.2 L921.30 137.3 L921.43 138.8 L921.55 139.8 L921.68 140.5 L921.80 141.7 L921.93 143.3 L922.06 145.8 L922.18 148.1 L922.31 150.0 L922.43 151.2 L922.56 152.3 L922.68 154.2 L922.81 156.4 L922.93 159.1 L923.06 161.8 L923.18 163.7 L923.31 165.1 L923.43 166.5 L923.56 168.9 L923.69 171.4 L923.81 174.5 L923.94 176.9 L924.06 179.1 L924.19 180.6 L924.31 182.5 L924.44 184.7 L924.56 187.5 L924.69 190.5 L924.81 193.2 L924.94 195.0 L925.07 196.6 L925.19 198.5 L925.32 200.9 L925.44 203.6 L925.57 206.3 L925.69 208.8 L925.82 210.6 L925.94 211.9 L926.07 213.7 L926.19 216.0 L926.32 218.6 L926.44 221.1 L926.57 223.3 L926.70 224.6 L926.82 225.8 L926.95 227.4 L927.07 229.5 L927.20 231.9 L927.32 234.0 L927.45 235.7 L927.57 236.9 L927.70 237.9 L927.82 239.1 L927.95 241.2 L928.07 243.6 L928.20 245.5 L928.33 243.2 L928.45 240.5 L928.58 238.0 L928.70 235.6 L928.83 233.9 L928.95 232.3 L929.08 230.4 L929.20 227.5 L929.33 224.4 L929.45 221.4 L929.58 219.0 L929.70 217.0 L929.83 214.9 L929.95 212.1 L930.08 208.8 L930.20 205.3 L930.33 201.9 L930.45 199.5 L930.58 197.3 L930.70 194.5 L930.83 191.6 L930.95 187.7 L931.08 184.0 L931.20 181.1 L931.33 178.7 L931.45 176.3 L931.58 173.7 L931.70 170.1 L931.83 166.6 L931.95 163.5 L932.08 161.0 L932.20 159.0 L932.33 156.7 L932.45 154.1 L932.58 150.8 L932.70 147.8 L932.83 145.7 L932.95 144.0 L933.08 142.7 L933.20 140.8 L933.33 138.3 L933.45 135.9 L933.58 133.9 L933.70 132.8 L933.83 132.2 L933.95 131.5 L934.08 130.0 L934.20 128.2 L934.33 128.5 L934.45 129.3 L934.58 131.0 L934.70 132.6 L934.83 133.3 L934.96 133.9 L935.08 134.3 L935.21 135.4 L935.34 137.3 L935.46 139.2 L935.59 141.0 L935.71 141.9 L935.84 142.7 L935.97 143.9 L936.09 145.9 L936.22 148.2 L936.34 150.4 L936.47 152.0 L936.60 153.2 L936.72 154.3 L936.85 156.3 L936.98 159.0 L937.10 161.7 L937.23 164.0 L937.35 165.5 L937.48 166.7 L937.61 168.5 L937.73 171.2 L937.86 174.0 L937.98 176.8 L938.11 178.8 L938.24 180.2 L938.36 181.7 L938.49 184.1 L938.62 186.8 L938.74 189.9 L938.87 192.3 L938.99 194.0 L939.12 195.5 L939.25 197.1 L939.37 199.5 L939.50 202.5 L939.62 205.3 L939.75 207.4 L939.88 208.8 L940.00 210.2 L940.13 212.0 L940.26 214.3 L940.38 217.1 L940.51 219.6 L940.63 221.2 L940.76 222.4 L940.89 223.6 L941.01 225.2 L941.14 227.7 L941.26 230.2 L941.39 232.2 L941.52 233.4 L941.64 234.3 L941.77 235.5 L941.90 237.2 L942.02 239.2 L942.15 241.4 L942.27 243.2 L942.40 244.4 L942.53 241.5 L942.65 238.8 L942.78 237.0 L942.90 235.4 L943.03 233.9 L943.15 231.7 L943.28 228.8 L943.40 225.6 L943.53 222.9 L943.66 220.7 L943.78 218.6 L943.91 216.6 L944.03 213.7 L944.16 210.3 L944.28 206.7 L944.41 203.5 L944.53 201.2 L944.66 198.8 L944.79 196.1 L944.91 193.0 L945.04 189.4 L945.16 185.7 L945.29 182.5 L945.41 180.0 L945.54 177.7 L945.66 174.9 L945.79 171.7 L945.91 168.0 L946.04 164.6 L946.17 162.0 L946.29 159.8 L946.42 157.7 L946.54 155.4 L946.67 152.2 L946.79 149.1 L946.92 146.3 L947.04 144.6 L947.17 143.2 L947.30 141.4 L947.42 139.7 L947.55 137.1 L947.67 134.9 L947.80 133.1 L947.92 132.5 L948.05 131.8 L948.17 131.1 L948.30 129.5 L948.43 129.4 L948.55 129.9 L948.68 131.1 L948.80 132.8 L948.93 134.3 L949.05 135.3 L949.18 135.6 L949.30 136.1 L949.43 137.6 L949.55 139.5 L949.68 141.4 L949.80 143.1 L949.93 144.3 L950.06 145.1 L950.18 146.3 L950.31 148.6 L950.43 151.0 L950.56 153.1 L950.68 154.9 L950.81 156.0 L950.93 157.4 L951.06 159.6 L951.18 162.3 L951.31 165.1 L951.43 167.1 L951.56 168.6 L951.69 170.0 L951.81 172.1 L951.94 174.7 L952.06 177.6 L952.19 180.2 L952.31 182.0 L952.44 183.5 L952.56 185.2 L952.69 187.7 L952.81 190.7 L952.94 193.5 L953.07 195.5 L953.19 197.1 L953.32 198.7 L953.44 200.6 L953.57 203.4 L953.69 206.2 L953.82 208.5 L953.94 210.2 L954.07 211.4 L954.19 212.9 L954.32 215.2 L954.44 217.9 L954.57 220.3 L954.70 222.0 L954.82 223.3 L954.95 224.3 L955.07 226.1 L955.20 228.2 L955.32 230.6 L955.45 232.4 L955.57 233.8 L955.70 234.7 L955.82 235.7 L955.95 237.5 L956.07 239.6 L956.20 241.8 L956.33 239.9 L956.45 237.4 L956.58 234.6 L956.70 232.3 L956.83 230.5 L956.95 229.1 L957.08 227.4 L957.20 225.3 L957.33 222.2 L957.45 219.1 L957.58 216.6 L957.70 214.5 L957.83 212.6 L957.95 210.5 L958.08 207.6 L958.20 204.2 L958.33 200.9 L958.45 197.9 L958.58 195.5 L958.70 193.4 L958.83 191.1 L958.95 187.8 L959.08 184.3 L959.20 181.0 L959.33 178.1 L959.45 175.7 L959.58 173.7 L959.70 171.3 L959.83 168.0 L959.95 164.7 L960.08 161.4 L960.20 159.1 L960.33 157.1 L960.45 155.3 L960.58 153.1 L960.70 150.5 L960.83 147.7 L960.95 145.2 L961.08 143.2 L961.20 142.1 L961.33 140.8 L961.45 139.6 L961.58 137.4 L961.70 135.2 L961.83 133.5 L961.95 132.6 L962.08 132.3 L962.20 131.8 L962.33 132.7 L962.45 132.7 L962.58 132.8 L962.70 133.5 L962.83 134.9 L962.95 136.6 L963.08 138.1 L963.20 139.2 L963.33 139.6 L963.45 140.3 L963.58 141.6 L963.70 143.6 L963.83 145.8 L963.96 147.3 L964.08 148.6 L964.21 149.4 L964.33 150.8 L964.46 152.6 L964.58 155.2 L964.71 157.4 L964.83 159.1 L964.96 160.5 L965.08 161.7 L965.21 163.5 L965.33 166.1 L965.46 168.9 L965.59 171.0 L965.71 172.7 L965.84 174.0 L965.96 175.5 L966.09 178.1 L966.21 180.9 L966.34 183.7 L966.46 185.5 L966.59 186.9 L966.71 188.3 L966.84 190.5 L966.97 193.2 L967.09 196.0 L967.22 198.1 L967.34 199.6 L967.47 200.9 L967.59 202.6 L967.72 205.0 L967.84 207.7 L967.97 210.2 L968.09 211.6 L968.22 212.8 L968.34 214.2 L968.47 216.0 L968.60 218.4 L968.72 220.9 L968.85 222.5 L968.97 223.5 L969.10 224.4 L969.22 225.7 L969.35 227.8 L969.47 230.2 L969.60 232.0 L969.72 233.1 L969.85 233.8 L969.97 234.7 L970.10 236.4 L970.23 235.3 L970.35 234.2 L970.48 232.3 L970.60 229.7 L970.73 227.0 L970.85 224.9 L970.98 223.4 L971.10 222.0 L971.23 220.4 L971.35 217.8 L971.48 214.8 L971.60 212.1 L971.73 210.0 L971.85 208.1 L971.98 206.4 L972.10 203.8 L972.23 200.7 L972.35 197.6 L972.48 194.8 L972.60 192.4 L972.73 190.6 L972.85 188.5 L972.98 185.5 L973.10 182.3 L973.23 179.2 L973.35 176.3 L973.48 174.4 L973.60 172.4 L973.73 170.4 L973.85 167.5 L973.98 164.4 L974.10 161.7 L974.23 159.4 L974.35 157.8 L974.48 156.4 L974.60 154.2 L974.73 152.0 L974.85 149.4 L974.98 147.2 L975.10 145.5 L975.23 144.6 L975.35 143.6 L975.48 142.4 L975.60 140.5 L975.73 138.6 L975.85 137.3 L975.98 136.5 L976.10 136.4 L976.23 137.6 L976.35 138.0 L976.48 138.3 L976.60 138.6 L976.73 139.1 L976.85 140.4 L976.98 142.0 L977.10 143.6 L977.23 144.6 L977.35 145.0 L977.48 145.6 L977.60 146.7 L977.73 148.5 L977.86 150.5 L977.98 152.5 L978.11 153.7 L978.23 154.4 L978.36 155.2 L978.48 157.0 L978.61 159.0 L978.73 161.3 L978.86 163.4 L978.98 164.7 L979.11 165.8 L979.23 167.0 L979.36 169.0 L979.49 171.5 L979.61 173.9 L979.74 175.8 L979.86 177.3 L979.99 178.5 L980.11 180.2 L980.24 182.2 L980.36 184.9 L980.49 187.3 L980.61 189.0 L980.74 190.3 L980.87 191.6 L980.99 193.4 L981.12 195.7 L981.24 198.3 L981.37 200.5 L981.49 201.8 L981.62 202.7 L981.74 203.9 L981.87 205.9 L981.99 208.4 L982.12 210.5 L982.24 212.2 L982.37 213.2 L982.50 214.0 L982.62 215.5 L982.75 217.6 L982.87 219.7 L983.00 221.5 L983.12 222.5 L983.25 223.2 L983.37 223.9 L983.50 225.8 L983.62 227.7 L983.75 229.6 L983.87 230.9 L984.00 231.6 L984.13 229.1 L984.25 227.6 L984.38 226.5 L984.51 225.4 L984.63 223.9 L984.76 221.8 L984.89 219.2 L985.01 216.9 L985.14 215.5 L985.27 214.5 L985.39 212.8 L985.52 210.6 L985.64 207.7 L985.77 205.1 L985.90 203.0 L986.02 201.5 L986.15 199.7 L986.28 197.4 L986.40 194.5 L986.53 191.4 L986.66 189.0 L986.78 187.3 L986.91 185.8 L987.04 183.6 L987.16 180.8 L987.29 177.7 L987.42 174.9 L987.54 173.0 L987.67 171.5 L987.80 169.6 L987.92 167.3 L988.05 164.6 L988.18 161.9 L988.30 160.0 L988.43 158.5 L988.56 157.4 L988.68 155.6 L988.81 153.3 L988.93 150.8 L989.06 149.0 L989.19 147.9 L989.31 147.1 L989.44 146.3 L989.57 145.0 L989.69 143.0 L989.82 141.3 L989.95 140.4 L990.07 140.0 L990.20 140.0 L990.33 140.7 L990.45 140.9 L990.58 140.9 L990.70 141.3 L990.83 142.2 L990.95 143.6 L991.08 145.1 L991.20 146.2 L991.33 146.6 L991.45 147.0 L991.58 147.9 L991.70 149.1 L991.83 151.0 L991.96 152.8 L992.08 154.0 L992.21 154.8 L992.33 155.4 L992.46 156.7 L992.58 158.4 L992.71 160.6 L992.83 162.6 L992.96 163.9 L993.08 164.9 L993.21 165.8 L993.33 167.5 L993.46 169.5 L993.59 171.9 L993.71 173.8 L993.84 175.3 L993.96 176.3 L994.09 177.3 L994.21 179.1 L994.34 181.4 L994.46 183.7 L994.59 185.7 L994.71 187.3 L994.84 188.2 L994.97 189.6 L995.09 191.3 L995.22 193.5 L995.34 195.9 L995.47 197.5 L995.59 198.8 L995.72 199.6 L995.84 200.8 L995.97 202.5 L996.09 204.8 L996.22 206.8 L996.34 208.3 L996.47 209.4 L996.60 210.2 L996.72 211.1 L996.85 213.0 L996.97 215.0 L997.10 217.0 L997.22 217.9 L997.35 218.5 L997.47 219.3 L997.60 220.2 L997.72 222.1 L997.85 224.1 L997.97 225.3 L998.10 226.4 L998.23 224.0 L998.35 222.0 L998.48 220.8 L998.60 220.0 L998.73 219.0 L998.85 217.4 L998.98 215.1 L999.10 212.9 L999.23 210.9 L999.35 209.6 L999.48 208.4 L999.60 206.6 L999.73 204.6 L999.85 202.0 L999.98 199.4 L1000.10 197.6 L1000.23 196.2 L1000.35 194.5 L1000.48 192.5 L1000.60 189.8 L1000.73 187.2 L1000.85 185.0 L1000.98 183.1 L1001.10 181.6 L1001.23 179.6 L1001.35 177.1 L1001.48 174.5 L1001.60 172.1 L1001.73 170.3 L1001.85 168.8 L1001.98 167.2 L1002.10 165.2 L1002.23 162.9 L1002.35 160.7 L1002.48 158.8 L1002.60 157.5 L1002.73 156.4 L1002.85 154.8 L1002.98 153.1 L1003.10 151.3 L1003.23 149.7 L1003.35 148.7 L1003.48 148.0 L1003.60 147.2 L1003.73 146.1 L1003.85 144.8 L1003.98 143.7 L1004.10 143.0 L1004.23 143.8 L1004.35 144.7 L1004.48 145.4 L1004.60 145.6 L1004.73 145.8 L1004.85 146.5 L1004.98 147.3 L1005.10 148.5 L1005.23 149.5 L1005.35 150.3 L1005.48 150.8 L1005.60 151.4 L1005.73 152.5 L1005.86 153.8 L1005.98 155.1 L1006.11 156.3 L1006.23 157.2 L1006.36 158.0 L1006.48 159.1 L1006.61 160.4 L1006.73 162.0 L1006.86 163.5 L1006.98 164.8 L1007.11 165.8 L1007.23 166.7 L1007.36 167.9 L1007.49 169.6 L1007.61 171.3 L1007.74 172.9 L1007.86 174.2 L1007.99 175.3 L1008.11 176.4 L1008.24 177.7 L1008.36 179.5 L1008.49 181.3 L1008.61 182.9 L1008.74 184.1 L1008.87 185.1 L1008.99 186.2 L1009.12 187.7 L1009.24 189.4 L1009.37 191.1 L1009.49 192.4 L1009.62 193.6 L1009.74 194.5 L1009.87 195.6 L1009.99 196.9 L1010.12 198.6 L1010.24 200.1 L1010.37 201.3 L1010.50 202.2 L1010.62 203.0 L1010.75 204.0 L1010.87 205.2 L1011.00 206.7 L1011.12 208.1 L1011.25 209.0 L1011.37 209.8 L1011.50 210.5 L1011.62 211.2 L1011.75 212.6 L1011.87 213.8 L1012.00 215.1 L1012.13 214.0 L1012.25 212.5 L1012.38 211.1 L1012.51 209.9 L1012.63 209.1 L1012.76 208.3 L1012.89 207.3 L1013.01 205.8 L1013.14 204.3 L1013.27 202.8 L1013.39 201.5 L1013.52 200.5 L1013.64 199.4 L1013.77 198.1 L1013.90 196.3 L1014.02 194.5 L1014.15 192.8 L1014.28 191.5 L1014.40 190.4 L1014.53 189.1 L1014.66 187.4 L1014.78 185.6 L1014.91 183.8 L1015.04 182.2 L1015.16 180.9 L1015.29 179.7 L1015.42 178.3 L1015.54 176.6 L1015.67 174.7 L1015.80 173.1 L1015.92 171.7 L1016.05 170.7 L1016.18 169.5 L1016.30 168.1 L1016.43 166.5 L1016.56 164.9 L1016.68 163.7 L1016.81 162.9 L1016.93 162.1 L1017.06 161.2 L1017.19 159.8 L1017.31 158.5 L1017.44 157.6 L1017.57 156.9 L1017.69 156.5 L1017.82 156.1 L1017.95 155.2 L1018.07 154.2 L1018.20 153.6 L1018.33 154.0 L1018.45 154.6 L1018.58 155.3 L1018.70 155.5 L1018.83 155.6 L1018.96 155.7 L1019.08 156.1 L1019.21 156.9 L1019.34 157.7 L1019.46 158.3 L1019.59 158.7 L1019.71 158.9 L1019.84 159.4 L1019.97 160.2 L1020.09 161.2 L1020.22 162.0 L1020.34 162.6 L1020.47 163.0 L1020.60 163.6 L1020.72 164.3 L1020.85 165.4 L1020.98 166.5 L1021.10 167.2 L1021.23 167.8 L1021.35 168.4 L1021.48 169.2 L1021.61 170.2 L1021.73 171.3 L1021.86 172.3 L1021.98 173.1 L1022.11 173.7 L1022.24 174.4 L1022.36 175.3 L1022.49 176.5 L1022.62 177.5 L1022.74 178.4 L1022.87 179.1 L1022.99 179.8 L1023.12 180.6 L1023.25 181.7 L1023.37 182.8 L1023.50 183.7 L1023.62 184.5 L1023.75 185.1 L1023.88 185.9 L1024.00 186.7 L1024.13 187.7 L1024.26 188.6 L1024.38 189.5 L1024.51 190.1 L1024.63 190.7 L1024.76 191.4 L1024.89 192.2 L1025.01 193.1 L1025.14 193.9 L1025.26 194.6 L1025.39 195.1 L1025.52 195.7 L1025.64 196.3 L1025.77 197.0 L1025.90 197.8 L1026.02 198.5 L1026.15 199.0 L1026.27 199.5 L1026.40 200.0 L1026.53 200.0 L1026.65 200.1 L1026.78 200.1 L1026.91 200.0 L1027.03 199.6 L1027.16 199.2 L1027.29 198.8 L1027.42 198.5 L1027.54 198.2 L1027.67 197.9 L1027.80 197.4 L1027.92 196.8 L1028.05 196.1 L1028.18 195.3 L1028.30 194.8 L1028.43 194.2 L1028.56 193.6 L1028.68 192.9 L1028.81 192.0 L1028.94 191.1 L1029.07 190.3 L1029.19 189.6 L1029.32 188.9 L1029.45 188.2 L1029.57 187.3 L1029.70 186.3 L1029.83 185.4 L1029.95 184.5 L1030.08 183.8 L1030.21 183.1 L1030.33 182.3 L1030.46 181.5 L1030.59 180.5 L1030.72 179.7 L1030.84 179.0 L1030.97 178.4 L1031.10 177.9 L1031.22 177.2 L1031.35 176.5 L1031.48 175.8 L1031.60 175.2 L1031.73 174.8 L1031.86 174.5 L1031.98 174.2 L1032.11 173.7 L1032.24 173.3 L1032.37 172.9 L1032.49 172.7 L1032.62 172.6 L1032.75 172.6 L1032.87 172.5 L1033.00 172.4 L1033.12 172.3 L1033.25 172.4 L1033.38 172.6 L1033.50 173.0 L1033.62 173.4 L1033.75 173.6 L1033.88 173.8 L1034.00 174.2 L1034.12 174.6 L1034.25 175.3 L1034.38 175.9 L1034.50 176.5 L1034.62 176.9 L1034.75 177.3 L1034.88 177.8 L1035.00 178.5 L1035.12 179.2 L1035.25 179.8 L1035.38 180.2 L1035.50 180.5 L1035.62 180.9 L1035.75 181.3 L1035.88 181.8 L1036.00 182.1 L1036.12 182.3 L1036.25 182.4 L1036.38 182.3 L1036.50 182.4 L1036.62 182.5 L1036.75 182.6 L1036.88 182.7 L1037.00 182.6 L1037.12 182.6 L1037.25 182.6 L1037.38 182.7 L1037.50 182.9 L1037.62 183.1 L1037.75 183.1 L1037.88 183.0 L1038.00 183.0 L1038.12 183.0 L1038.25 183.2 L1038.38 183.3 L1038.50 183.4 L1038.63 183.3 L1038.75 183.1 L1038.88 183.2 L1039.00 183.3 L1039.13 183.5 L1039.26 183.8 L1039.38 183.9 L1039.51 183.9 L1039.63 183.9 L1039.76 184.1 L1039.89 184.5 L1040.01 184.9 L1040.14 185.1 L1040.26 185.3 L1040.39 185.5 L1040.52 185.7 L1040.64 186.0 L1040.77 186.5 L1040.89 186.9 L1041.02 187.3 L1041.15 187.5 L1041.27 187.7 L1041.40 188.0 L1041.52 188.5 L1041.65 189.0 L1041.78 189.4 L1041.90 189.7 L1042.03 189.9 L1042.15 190.2 L1042.28 190.6 L1042.41 191.0 L1042.53 191.5 L1042.66 191.8 L1042.78 192.0 L1042.91 192.2 L1043.04 192.3 L1043.16 192.7 L1043.29 193.1 L1043.41 193.5 L1043.54 193.7 L1043.67 193.7 L1043.79 193.8 L1043.92 193.9 L1044.04 194.1 L1044.17 194.4 L1044.30 194.6 L1044.42 194.6 L1044.55 194.6 L1044.67 194.5 L1044.80 194.4 L1044.93 194.5 L1045.05 194.6 L1045.18 194.7 L1045.30 194.5 L1045.43 194.2 L1045.56 194.0 L1045.68 193.8 L1045.81 193.7 L1045.94 193.6 L1046.06 193.4 L1046.19 193.1 L1046.31 192.6 L1046.44 192.2 L1046.57 191.8 L1046.69 191.6 L1046.82 191.3 L1046.95 191.0 L1047.07 190.4 L1047.20 189.8 L1047.32 189.3 L1047.45 188.9 L1047.58 188.5 L1047.70 188.2 L1047.83 187.6 L1047.96 187.0 L1048.08 186.3 L1048.21 185.8 L1048.33 185.3 L1048.46 184.9 L1048.59 184.4 L1048.71 183.8 L1048.84 183.1 L1048.97 182.5 L1049.09 181.9 L1049.22 181.6 L1049.34 181.2 L1049.47 180.7 L1049.60 180.0 L1049.72 179.4 L1049.85 178.9 L1049.98 178.5 L1050.10 178.2 L1050.23 177.8 L1050.35 177.3 L1050.48 176.7 L1050.61 176.2 L1050.73 175.9 L1050.86 175.7 L1050.99 175.5 L1051.11 175.2 L1051.24 174.8 L1051.36 174.4 L1051.49 174.1 L1051.62 174.0 L1051.74 174.0 L1051.87 173.9 L1052.00 173.7 L1052.12 173.4 L1052.25 173.3 L1052.37 173.3 L1052.50 173.4 L1052.62 173.5 L1052.75 173.6 L1052.88 173.5 L1053.00 173.5 L1053.12 173.6 L1053.25 173.9 L1053.38 174.1 L1053.50 174.4 L1053.62 174.5 L1053.75 174.6 L1053.88 174.8 L1054.00 175.2 L1054.12 175.6 L1054.25 176.0 L1054.38 176.3 L1054.50 176.6 L1054.62 176.8 L1054.75 177.3 L1054.88 177.9 L1055.00 178.4 L1055.12 178.9 L1055.25 179.3 L1055.38 179.6 L1055.50 180.1 L1055.62 180.7 L1055.75 181.3 L1055.88 181.9 L1056.00 182.4 L1056.12 182.8 L1056.25 183.3 L1056.38 183.9 L1056.50 184.6 L1056.62 185.3 L1056.75 185.8 L1056.88 186.3 L1057.00 186.8 L1057.12 187.2 L1057.25 187.9 L1057.38 188.6 L1057.50 189.2 L1057.62 189.7 L1057.75 190.1 L1057.88 190.5 L1058.00 191.1 L1058.12 191.6 L1058.25 192.3 L1058.38 192.8 L1058.50 193.2 L1058.62 193.5 L1058.75 193.8 L1058.88 194.2 L1059.00 194.8 L1059.12 195.3 L1059.25 195.6 L1059.38 195.9 L1059.50 196.1 L1059.62 196.3 L1059.75 196.6 L1059.88 197.0 L1060.00 197.3 L1060.12 197.5 L1060.25 197.6 L1060.38 197.6 L1060.50 197.6 L1060.62 197.8 L1060.75 198.0 L1060.88 198.1 L1061.00 198.2 L1061.13 198.0 L1061.25 197.8 L1061.38 197.6 L1061.51 197.6 L1061.63 197.5 L1061.76 197.4 L1061.88 197.1 L1062.01 196.6 L1062.14 196.1 L1062.26 195.7 L1062.39 195.4 L1062.52 195.1 L1062.64 194.7 L1062.77 194.1 L1062.89 193.3 L1063.02 192.6 L1063.15 192.0 L1063.27 191.5 L1063.40 190.9 L1063.53 190.3 L1063.65 189.5 L1063.78 188.6 L1063.91 187.8 L1064.03 187.1 L1064.16 186.4 L1064.28 185.7 L1064.41 185.0 L1064.54 184.1 L1064.66 183.1 L1064.79 182.3 L1064.92 181.6 L1065.04 181.0 L1065.17 180.3 L1065.29 179.5 L1065.42 178.6 L1065.55 177.7 L1065.67 177.0 L1065.80 176.5 L1065.93 175.9 L1066.05 175.3 L1066.18 174.6 L1066.31 173.9 L1066.43 173.2 L1066.56 172.8 L1066.68 172.4 L1066.81 172.0 L1066.94 171.6 L1067.06 171.0 L1067.19 170.5 L1067.32 170.2 L1067.44 170.1 L1067.57 170.0 L1067.69 169.8 L1067.82 169.5 L1067.95 169.3 L1068.07 169.2 L1068.20 169.2 L1068.33 169.4 L1068.45 169.6 L1068.58 169.6 L1068.70 169.6 L1068.83 169.7 L1068.96 169.9 L1069.08 170.4 L1069.21 170.8 L1069.34 171.1 L1069.46 171.4 L1069.59 171.7 L1069.71 172.2 L1069.84 172.7 L1069.97 173.4 L1070.09 174.0 L1070.22 174.5 L1070.35 175.0 L1070.47 175.5 L1070.60 176.3 L1070.72 177.1 L1070.85 177.9 L1070.98 178.6 L1071.10 179.3 L1071.23 179.9 L1071.36 180.8 L1071.48 181.7 L1071.61 182.6 L1071.73 183.4 L1071.86 184.1 L1071.99 184.8 L1072.11 185.6 L1072.24 186.5 L1072.37 187.5 L1072.49 188.4 L1072.62 189.1 L1072.74 189.8 L1072.87 190.4 L1073.00 191.3 L1073.12 192.2 L1073.25 193.0 L1073.38 193.7 L1073.50 194.3 L1073.63 194.8 L1073.75 195.5 L1073.88 196.2 L1074.01 196.9 L1074.13 197.6 L1074.26 198.0 L1074.39 198.4 L1074.51 198.8 L1074.64 199.2 L1074.76 199.7 L1074.89 200.2 L1075.02 200.6 L1075.14 200.7 L1075.27 200.8 L1075.40 200.9 L1075.52 201.1 L1075.65 201.4 L1075.77 201.5 L1075.90 201.5 L1076.03 201.4 L1076.15 201.2 L1076.28 201.0 L1076.41 201.0 L1076.53 200.9 L1076.66 200.7 L1076.78 200.4 L1076.91 199.9 L1077.04 199.4 L1077.16 199.0 L1077.29 198.6 L1077.42 198.3 L1077.54 197.7 L1077.67 197.1 L1077.79 196.3 L1077.92 195.6 L1078.05 195.0 L1078.17 194.4 L1078.30 193.8 L1078.43 193.1 L1078.55 192.2 L1078.68 191.2 L1078.81 190.3 L1078.93 189.6 L1079.06 188.9 L1079.18 188.2 L1079.31 187.3 L1079.44 186.3 L1079.56 185.3 L1079.69 184.4 L1079.82 183.7 L1079.94 183.0 L1080.07 182.3 L1080.19 181.4 L1080.32 180.4 L1080.45 179.6 L1080.57 178.8 L1080.70 178.1 L1080.83 177.5 L1080.95 176.9 L1081.08 176.1 L1081.21 175.3 L1081.33 174.6 L1081.46 174.1 L1081.58 173.7 L1081.71 173.3 L1081.84 172.9 L1081.96 172.3 L1082.09 171.8 L1082.22 171.4 L1082.34 171.2 L1082.47 171.0 L1082.59 170.9 L1082.72 170.7 L1082.85 170.5 L1082.97 170.3 L1083.10 170.3 L1083.23 170.4 L1083.35 170.6 L1083.48 170.7 L1083.61 170.8 L1083.73 170.9 L1083.86 171.0 L1083.99 171.4 L1084.11 171.9 L1084.24 172.3 L1084.37 172.7 L1084.49 173.0 L1084.62 173.4 L1084.75 173.9 L1084.88 174.6 L1085.00 175.3 L1085.13 175.9 L1085.26 176.4 L1085.38 176.9 L1085.51 177.6 L1085.64 178.4 L1085.76 179.3 L1085.89 180.1 L1086.02 180.8 L1086.14 181.4 L1086.27 182.1 L1086.40 182.9 L1086.52 183.9 L1086.65 184.8 L1086.78 185.5 L1086.90 186.2 L1087.03 186.8 L1087.16 187.6 L1087.28 188.5 L1087.41 189.4 L1087.54 190.2 L1087.66 190.8 L1087.79 191.3 L1087.92 192.0 L1088.04 192.8 L1088.17 193.5 L1088.30 194.2 L1088.42 194.7 L1088.55 195.1 L1088.68 195.5 L1088.81 196.1 L1088.93 196.7 L1089.06 197.2 L1089.19 197.5 L1089.31 197.7 L1089.44 197.9 L1089.57 198.1 L1089.69 198.4 L1089.82 198.7 L1089.95 198.9 L1090.07 198.8 L1090.20 198.7 L1090.33 198.6 L1090.45 198.6 L1090.58 198.7 L1090.71 198.6 L1090.83 198.5 L1090.96 198.1 L1091.08 197.8 L1091.21 197.5 L1091.34 197.3 L1091.46 197.2 L1091.59 196.9 L1091.72 196.3 L1091.84 195.8 L1091.97 195.2 L1092.09 194.8 L1092.22 194.5 L1092.35 194.1 L1092.47 193.6 L1092.60 192.9 L1092.73 192.1 L1092.85 191.5 L1092.98 191.0 L1093.11 190.5 L1093.23 190.0 L1093.36 189.3 L1093.48 188.5 L1093.61 187.7 L1093.74 187.1 L1093.86 186.5 L1093.99 186.0 L1094.12 185.5 L1094.24 184.7 L1094.37 183.9 L1094.49 183.2 L1094.62 182.6 L1094.75 182.1 L1094.87 181.7 L1095.00 181.1 L1095.13 180.4 L1095.25 179.8 L1095.38 179.2 L1095.51 178.7 L1095.63 178.4 L1095.76 178.0 L1095.88 177.6 L1096.01 177.2 L1096.14 176.6 L1096.26 176.3 L1096.39 176.1 L1096.52 175.9 L1096.64 175.8 L1096.77 175.6 L1096.89 175.3 L1097.02 175.1 L1097.15 174.9 L1097.27 175.0 L1097.40 175.1 L1097.53 175.2 L1097.65 175.2 L1097.78 175.1 L1097.90 175.1 L1098.03 175.2 L1098.16 175.5 L1098.28 175.8 L1098.41 176.0 L1098.53 176.2 L1098.66 176.3 L1098.78 176.5 L1098.91 176.9 L1099.04 177.3 L1099.16 177.8 L1099.29 178.2 L1099.41 178.4 L1099.54 178.7 L1099.67 179.1 L1099.79 179.6 L1099.92 180.2 L1100.04 180.8 L1100.17 181.2 L1100.29 181.6 L1100.42 182.0 L1100.55 182.5 L1100.67 183.1 L1100.80 183.8 L1100.92 184.3 L1101.05 184.7 L1101.18 185.1 L1101.30 185.6 L1101.43 186.2 L1101.55 186.9 L1101.68 187.5 L1101.81 187.9 L1101.93 188.2 L1102.06 188.6 L1102.18 189.1 L1102.31 189.7 L1102.43 190.3 L1102.56 190.7 L1102.69 191.0 L1102.81 191.2 L1102.94 191.6 L1103.06 192.1 L1103.19 192.5 L1103.32 192.9 L1103.44 193.1 L1103.57 193.2 L1103.69 193.4 L1103.82 193.6 L1103.94 194.0 L1104.07 194.2 L1104.20 194.3 L1104.32 194.2 L1104.45 194.2 L1104.57 194.3 L1104.70 194.4 L1104.83 194.5 L1104.95 194.5 L1105.08 194.3 L1105.20 194.1 L1105.33 194.0 L1105.45 193.9 L1105.58 194.0 L1105.70 193.9 L1105.83 193.6 L1105.95 193.3 L1106.08 192.9 L1106.20 192.7 L1106.33 192.6 L1106.45 192.5 L1106.58 192.2 L1106.70 191.8 L1106.83 191.4 L1106.95 191.0 L1107.08 190.8 L1107.20 190.5 L1107.33 190.3 L1107.45 189.9 L1107.58 189.3 L1107.70 188.9 L1107.83 188.5 L1107.95 188.2 L1108.08 188.0 L1108.20 187.6 L1108.33 187.1 L1108.45 186.6 L1108.58 186.1 L1108.70 185.8 L1108.83 185.6 L1108.95 185.3 L1109.08 184.9 L1109.20 184.4 L1109.33 184.0 L1109.45 183.6 L1109.58 183.4 L1109.70 183.2 L1109.83 183.0 L1109.95 182.7 L1110.08 182.2 L1110.20 181.9 L1110.33 181.6 L1110.45 181.5 L1110.58 181.5 L1110.70 181.4 L1110.83 181.1 L1110.95 180.9 L1111.08 180.7 L1111.20 180.5 L1111.33 180.6 L1111.45 180.6 L1111.58 180.6 L1111.70 180.6 L1111.83 180.4 L1111.95 180.4 L1112.08 180.4 L1112.21 180.6 L1112.33 180.8 L1112.46 181.0 L1112.58 180.9 L1112.71 180.9 L1112.84 181.0 L1112.96 181.2 L1113.09 181.5 L1113.22 181.8 L1113.34 181.9 L1113.47 182.0 L1113.60 182.0 L1113.72 182.2 L1113.85 182.5 L1113.98 182.9 L1114.10 183.2 L1114.23 183.4 L1114.35 183.5 L1114.48 183.7 L1114.61 183.9 L1114.73 184.3 L1114.86 184.7 L1114.99 185.0 L1115.11 185.2 L1115.24 185.3 L1115.37 185.5 L1115.49 185.8 L1115.62 186.2 L1115.75 186.6 L1115.87 186.8 L1116.00 187.0 L1116.12 187.1 L1116.25 187.3 L1116.38 187.5 L1116.50 187.9 L1116.63 188.2 L1116.76 188.3 L1116.88 188.4 L1117.01 188.5 L1117.14 188.6 L1117.26 188.9 L1117.39 189.1 L1117.52 189.3 L1117.64 189.3 L1117.77 189.2 L1117.89 189.2 L1118.02 189.3 L1118.15 189.5 L1118.27 189.6 L1118.40 189.6 L1118.53 189.5 L1118.65 189.3 L1118.78 189.3 L1118.91 189.4 L1119.03 189.6 L1119.16 189.5 L1119.29 189.3 L1119.41 189.1 L1119.54 189.0 L1119.67 189.0 L1119.79 189.1 L1119.92 189.0 L1120.05 188.9 L1120.17 188.6 L1120.30 188.4 L1120.43 188.4 L1120.55 188.4 L1120.68 188.4 L1120.81 188.2 L1120.93 187.9 L1121.06 187.6 L1121.19 187.5 L1121.31 187.5 L1121.44 187.5 L1121.57 187.3 L1121.69 187.0 L1121.82 186.7 L1121.95 186.5 L1122.07 186.5 L1122.20 186.5 L1122.33 186.4 L1122.45 186.1 L1122.58 185.8 L1122.71 185.5 L1122.83 185.4 L1122.96 185.4 L1123.09 185.4 L1123.21 185.2 L1123.34 184.9 L1123.47 184.7 L1123.59 184.5 L1123.72 184.5 L1123.85 184.5 L1123.97 184.4 L1124.10 184.2 L1124.23 183.9 L1124.35 183.7 L1124.48 183.7 L1124.61 183.8 L1124.73 183.8 L1124.86 183.7 L1124.99 183.5 L1125.11 183.3 L1125.24 183.2 L1125.37 183.3 L1125.49 183.4 L1125.62 183.4 L1125.75 183.3 L1125.87 183.1 L1126.00 183.0 L1126.13 183.1 L1126.25 183.3 L1126.38 183.4 L1126.51 183.5 L1126.64 183.4 L1126.76 183.4 L1126.89 183.4 L1127.02 183.6 L1127.14 183.9 L1127.27 184.1 L1127.40 184.2 L1127.52 184.2 L1127.65 184.2 L1127.78 184.4 L1127.91 184.7 L1128.03 185.0 L1128.16 185.2 L1128.29 185.3 L1128.41 185.4 L1128.54 185.5 L1128.67 185.7 L1128.79 186.0 L1128.92 186.3 L1129.05 186.5 L1129.18 186.5 L1129.30 186.5 L1129.43 186.6 L1129.56 186.8 L1129.68 187.1 L1129.81 187.3 L1129.94 187.4 L1130.06 187.3 L1130.19 187.3 L1130.32 187.3 L1130.45 187.4 L1130.57 187.6 L1130.70 187.7 L1130.83 187.6 L1130.95 187.5 L1131.08 187.4 L1131.21 187.3 L1131.33 187.4 L1131.46 187.5 L1131.59 187.5 L1131.71 187.4 L1131.84 187.2 L1131.97 187.0 L1132.09 187.0 L1132.22 187.1 L1132.35 187.1 L1132.47 187.0 L1132.60 186.9 L1132.73 186.7 L1132.85 186.6 L1132.98 186.6 L1133.11 186.7 L1133.23 186.7 L1133.36 186.6 L1133.49 186.4 L1133.61 186.2 L1133.74 186.2 L1133.87 186.3 L1133.99 186.4 L1134.12 186.4 L1134.25 186.3 L1134.37 186.1 L1134.50 186.0 L1134.62 186.1 L1134.75 186.3 L1134.88 186.4 L1135.00 186.4 L1135.12 186.2 L1135.25 186.1 L1135.38 186.2 L1135.50 186.3 L1135.62 186.5 L1135.75 186.5 L1135.88 186.5 L1136.00 186.3 L1136.12 186.3 L1136.25 186.4 L1136.38 186.6 L1136.50 186.7 L1136.63 186.6 L1136.76 186.4 L1136.88 186.3 L1137.01 186.3 L1137.14 186.4 L1137.27 186.5 L1137.39 186.4 L1137.52 186.2 L1137.65 186.0 L1137.78 185.9 L1137.91 186.0 L1138.03 186.1 L1138.16 186.1 L1138.29 185.9 L1138.42 185.7 L1138.54 185.6 L1138.67 185.8 L1138.80 185.9 L1138.93 186.0 L1139.05 185.9 L1139.18 185.8 L1139.30 185.7 L1139.43 185.8 L1139.55 186.0 L1139.68 186.1 L1139.81 186.2 L1139.93 186.1 L1140.06 186.1 L1140.18 186.1 L1140.31 186.3 L1140.43 186.5 L1140.56 186.7 L1140.69 186.7 L1140.81 186.6 L1140.94 186.6 L1141.06 186.8 L1141.19 187.0 L1141.31 187.2 L1141.44 187.3 L1141.57 187.3 L1141.69 187.2 L1141.82 187.2 L1141.94 187.5 L1142.07 187.6 L1142.19 187.8 L1142.32 187.8 L1142.45 187.7 L1142.57 187.7 L1142.70 187.7 L1142.82 187.9 L1142.95 188.0 L1143.07 188.1 L1143.20 188.0 L1143.33 187.8 L1143.45 187.7 L1143.58 187.7 L1143.71 187.8 L1143.84 187.8 L1143.96 187.7 L1144.09 187.4 L1144.22 187.2 L1144.35 187.0 L1144.47 187.0 L1144.60 187.0 L1144.73 186.9 L1144.85 186.7 L1144.98 186.4 L1145.11 186.2 L1145.24 186.1 L1145.36 186.0 L1145.49 186.1 L1145.62 186.1 L1145.75 185.9 L1145.87 185.7 L1146.00 185.6 L1146.13 185.7 L1146.26 185.8 L1146.39 185.9 L1146.52 185.8 L1146.65 185.6 L1146.78 185.3 L1146.91 185.2 L1147.04 185.2 L1147.17 185.3 L1147.30 185.2 L1147.43 185.0 L1147.56 184.8 L1147.69 184.5 L1147.82 184.5 L1147.95 184.5 L1148.08 184.6 L1148.21 184.5 L1148.34 184.4 L1148.47 184.2 L1148.60 184.1 L1148.73 184.3 L1148.87 184.5 L1149.00 184.7 L1149.13 184.8 L1149.27 184.8 L1149.40 184.9 L1149.53 185.1 L1149.67 185.3 L1149.80 185.3"/>
<linearGradient id="fade" gradientUnits="userSpaceOnUse" x1="0" y1="150" x2="0" y2="235"><stop offset="0" stop-color="#fff"/><stop offset="1" stop-color="#000"/></linearGradient>
<mask id="upmask" maskUnits="userSpaceOnUse" x="490" y="40" width="330" height="300"><rect x="490" y="40" width="330" height="300" fill="url(#fade)"/></mask>
<g mask="url(#upmask)">
<path fill="none" stroke="#7E2F8E" stroke-width="2.6" stroke-linejoin="round" stroke-linecap="round" d="M506.90 218.8 L507.03 212.3 L507.15 208.8 L507.28 206.4 L507.40 203.9 L507.53 200.2 L507.65 196.2 L507.78 192.6 L507.90 190.6 L508.03 189.3 L508.16 187.9 L508.28 185.6 L508.41 182.4 L508.53 178.6 L508.66 176.8 L508.78 176.0 L508.91 176.1 L509.03 175.4 L509.16 171.8 L509.29 167.8 L509.41 164.2 L509.54 164.5 L509.66 165.3 L509.79 165.0 L509.91 162.7 L510.04 158.9 L510.17 155.2 L510.29 153.1 L510.42 154.9 L510.54 156.6 L510.67 155.8 L510.79 151.4 L510.92 146.4 L511.04 144.7 L511.17 145.2 L511.30 147.3 L511.42 149.0 L511.55 145.4 L511.67 139.9 L511.80 137.7 L511.92 137.7 L512.05 138.2 L512.17 142.0 L512.30 137.7 L512.42 140.5 L512.55 140.4 L512.67 143.5 L512.80 149.8 L512.92 157.4 L513.05 161.6 L513.17 164.3 L513.30 164.2 L513.42 165.0 L513.55 167.8 L513.67 173.9 L513.80 179.7 L513.92 182.4 L514.05 183.8 L514.17 182.8 L514.30 184.0 L514.42 187.9 L514.55 194.4 L514.67 201.5 L514.80 205.6 L514.92 201.7 L515.05 193.6 L515.17 187.9 L515.30 199.6 L515.42 220.5 L515.55 234.0 L515.67 226.2 L515.80 214.8 L515.92 202.2 L516.05 200.9 L516.17 220.0 L516.30 238.1 L516.42 247.2 L516.55 241.6 L516.67 229.9 L516.80 224.0 L516.92 230.3 L517.05 238.8 L517.17 244.2 L517.30 247.1 L517.42 245.9 L517.55 245.6 L517.67 246.5 L517.80 250.8 L517.93 243.2 L518.05 238.3 L518.18 233.2 L518.31 227.5 L518.43 221.6 L518.56 216.5 L518.69 213.3 L518.81 210.6 L518.94 207.9 L519.07 204.6 L519.19 199.9 L519.32 195.5 L519.44 191.9 L519.57 189.5 L519.70 187.9 L519.82 186.2 L519.95 183.0 L520.08 178.5 L520.20 174.6 L520.33 171.4 L520.46 170.4 L520.58 170.1 L520.71 169.0 L520.84 164.9 L520.96 159.9 L521.09 155.8 L521.22 154.1 L521.34 154.5 L521.47 155.3 L521.60 153.2 L521.72 148.4 L521.85 142.7 L521.98 140.0 L522.10 139.8 L522.23 140.8 L522.36 141.6 L522.48 137.5 L522.61 132.6 L522.73 128.0 L522.86 126.5 L522.99 127.7 L523.11 128.8 L523.24 127.4 L523.37 123.1 L523.49 117.6 L523.62 115.7 L523.75 115.7 L523.87 118.3 L524.00 115.7 L524.13 120.1 L524.25 119.7 L524.38 120.3 L524.50 124.6 L524.63 131.5 L524.76 138.5 L524.88 141.5 L525.01 140.5 L525.14 140.4 L525.26 143.3 L525.39 147.8 L525.51 153.1 L525.64 156.7 L525.77 158.1 L525.89 157.5 L526.02 158.8 L526.14 161.3 L526.27 167.6 L526.40 171.7 L526.52 174.0 L526.65 173.1 L526.78 172.5 L526.90 174.3 L527.03 180.6 L527.15 186.5 L527.28 188.4 L527.41 188.2 L527.53 186.6 L527.66 184.1 L527.78 190.7 L527.91 203.1 L528.04 209.8 L528.16 207.3 L528.29 195.5 L528.42 183.1 L528.54 191.0 L528.67 213.3 L528.79 231.5 L528.92 231.1 L529.05 215.4 L529.17 201.3 L529.30 202.3 L529.42 217.4 L529.55 232.6 L529.68 241.8 L529.80 234.6 L529.93 218.8 L530.06 207.0 L530.18 219.9 L530.31 238.6 L530.43 253.8 L530.56 252.1 L530.69 239.8 L530.81 233.4 L530.94 234.7 L531.06 242.0 L531.19 249.0 L531.32 252.5 L531.44 251.7 L531.57 249.3 L531.70 249.3 L531.82 251.4 L531.95 255.0 L532.07 257.5 L532.20 258.8 L532.33 248.6 L532.45 239.1 L532.58 231.2 L532.71 225.4 L532.84 220.6 L532.96 216.3 L533.09 210.6 L533.22 204.5 L533.35 198.1 L533.47 193.6 L533.60 190.3 L533.73 188.2 L533.85 185.3 L533.98 180.2 L534.11 174.6 L534.24 169.4 L534.36 165.0 L534.49 164.1 L534.62 163.0 L534.75 161.5 L534.87 156.5 L535.00 149.7 L535.13 144.9 L535.25 142.4 L535.38 142.8 L535.51 142.3 L535.64 141.7 L535.76 134.9 L535.89 127.8 L536.02 122.8 L536.15 122.9 L536.27 125.3 L536.40 122.8 L536.52 127.7 L536.65 127.4 L536.77 127.0 L536.90 129.6 L537.02 134.8 L537.15 141.4 L537.27 146.1 L537.40 147.0 L537.52 146.6 L537.65 147.1 L537.77 149.6 L537.90 154.4 L538.02 160.1 L538.15 162.9 L538.27 164.1 L538.40 163.0 L538.52 163.3 L538.65 166.4 L538.77 171.5 L538.90 176.4 L539.02 178.3 L539.15 178.3 L539.27 177.1 L539.40 179.0 L539.52 182.4 L539.65 188.1 L539.77 192.2 L539.90 192.9 L540.02 191.8 L540.15 190.8 L540.27 192.5 L540.40 198.2 L540.52 204.9 L540.65 208.5 L540.77 207.1 L540.90 199.6 L541.02 196.4 L541.15 202.5 L541.27 218.2 L541.40 233.3 L541.52 228.7 L541.65 214.8 L541.77 202.3 L541.90 204.6 L542.02 221.6 L542.15 239.7 L542.27 245.4 L542.40 234.1 L542.52 215.5 L542.65 211.0 L542.77 222.8 L542.90 246.2 L543.02 253.9 L543.15 251.7 L543.27 234.3 L543.40 220.8 L543.52 231.3 L543.65 246.3 L543.77 260.8 L543.90 259.3 L544.02 251.8 L544.15 244.3 L544.27 241.3 L544.40 250.7 L544.52 262.0 L544.65 263.5 L544.77 262.4 L544.90 258.4 L545.02 258.7 L545.15 260.2"/>
<path fill="none" stroke="#7E2F8E" stroke-width="3.3" stroke-linejoin="round" stroke-linecap="round" d="M544.90 258.4 L545.02 258.7 L545.15 260.2 L545.27 265.2 L545.40 267.9 L545.52 269.6 L545.65 268.5 L545.77 268.5 L545.90 271.9 L546.03 260.0 L546.15 252.0 L546.28 244.5 L546.41 236.5 L546.54 228.5 L546.66 221.6 L546.79 216.0 L546.92 211.8 L547.04 207.1 L547.17 202.3 L547.30 195.9 L547.42 190.0 L547.55 184.9 L547.68 181.8 L547.81 179.6 L547.93 175.7 L548.06 171.3 L548.19 164.5 L548.31 158.6 L548.44 156.6 L548.57 155.1 L548.69 153.2 L548.82 150.8 L548.95 144.4 L549.08 138.4 L549.20 133.7 L549.33 132.1 L549.46 133.3 L549.58 131.5 L549.71 127.1 L549.84 120.4 L549.96 114.0 L550.09 110.8 L550.22 112.1 L550.35 112.7 L550.47 112.8 L550.60 107.9 L550.73 107.9 L550.85 107.9 L550.98 112.3 L551.10 120.2 L551.23 126.3 L551.35 131.5 L551.48 131.0 L551.60 130.7 L551.73 132.8 L551.85 137.3 L551.98 142.9 L552.10 148.7 L552.23 150.6 L552.35 151.4 L552.48 151.3 L552.61 153.4 L552.73 157.5 L552.86 162.7 L552.98 167.0 L553.11 169.5 L553.23 169.7 L553.36 169.6 L553.48 170.6 L553.61 175.8 L553.73 181.5 L553.86 185.4 L553.98 187.2 L554.11 186.7 L554.24 186.5 L554.36 189.0 L554.49 192.8 L554.61 201.7 L554.74 206.8 L554.86 207.2 L554.99 198.2 L555.11 195.0 L555.24 193.8 L555.36 211.1 L555.49 228.5 L555.61 236.0 L555.74 222.2 L555.86 207.4 L555.99 200.5 L556.12 210.5 L556.24 232.1 L556.37 249.5 L556.49 246.1 L556.62 230.3 L556.74 218.3 L556.87 219.9 L556.99 235.2 L557.12 250.9 L557.24 256.8 L557.37 252.7 L557.49 238.6 L557.62 235.0 L557.75 242.5 L557.87 255.3 L558.00 265.5 L558.12 263.3 L558.25 256.4 L558.37 253.5 L558.50 255.8 L558.62 261.2 L558.75 265.6 L558.87 268.2 L559.00 267.7 L559.12 266.8 L559.25 267.5 L559.37 270.6 L559.50 273.9 L559.63 263.1 L559.75 252.8 L559.88 243.1 L560.01 234.6 L560.14 227.3 L560.26 221.7 L560.39 216.6 L560.52 210.5 L560.64 203.8 L560.77 197.2 L560.90 191.4 L561.02 187.5 L561.15 184.3 L561.28 180.0 L561.41 174.5 L561.53 168.1 L561.66 162.8 L561.79 159.2 L561.91 157.8 L562.04 155.9 L562.17 151.1 L562.29 144.2 L562.42 137.5 L562.55 134.8 L562.68 134.0 L562.80 134.4 L562.93 129.9 L563.06 124.2 L563.18 116.7 L563.31 113.4 L563.44 111.6 L563.56 113.6 L563.69 112.4 L563.82 107.2 L563.95 98.7 L564.07 98.7 L564.20 98.7 L564.33 100.1 L564.45 109.0 L564.58 112.7 L564.70 112.3 L564.83 111.8 L564.95 113.6 L565.08 120.1 L565.20 127.3 L565.33 131.7 L565.45 133.6 L565.58 134.5 L565.70 135.3 L565.83 138.6 L565.95 143.3 L566.08 149.3 L566.21 153.4 L566.33 154.4 L566.46 153.9 L566.58 154.7 L566.71 158.8 L566.83 163.8 L566.96 169.7 L567.08 172.5 L567.21 172.9 L567.33 172.0 L567.46 173.9 L567.58 176.7 L567.71 182.8 L567.84 187.4 L567.96 190.5 L568.09 190.7 L568.21 187.7 L568.34 184.3 L568.46 189.9 L568.59 203.8 L568.71 214.6 L568.84 216.9 L568.96 207.2 L569.09 192.2 L569.21 191.5 L569.34 205.1 L569.46 223.0 L569.59 233.7 L569.72 232.6 L569.84 220.4 L569.97 210.0 L570.09 208.5 L570.22 225.1 L570.34 240.3 L570.47 250.4 L570.59 248.2 L570.72 232.0 L570.84 220.2 L570.97 227.8 L571.09 242.0 L571.22 256.7 L571.35 260.9 L571.47 253.9 L571.60 245.4 L571.72 245.2 L571.85 247.9 L571.97 258.0 L572.10 262.3 L572.22 264.0 L572.35 263.1 L572.47 261.3 L572.60 263.0 L572.72 266.3 L572.85 269.7 L572.97 272.5 L573.10 273.1 L573.23 260.3 L573.35 249.6 L573.48 240.5 L573.61 233.5 L573.74 227.2 L573.86 221.0 L573.99 213.4 L574.12 205.6 L574.24 199.1 L574.37 194.5 L574.50 190.8 L574.62 186.6 L574.75 180.8 L574.88 174.5 L575.01 168.1 L575.13 163.7 L575.26 161.3 L575.39 158.8 L575.51 155.0 L575.64 149.0 L575.77 141.9 L575.89 138.3 L576.02 135.6 L576.15 135.5 L576.28 132.2 L576.40 127.8 L576.53 119.9 L576.66 113.6 L576.78 112.7 L576.91 113.1 L577.04 112.6 L577.16 109.4 L577.29 100.8 L577.42 94.2 L577.55 93.0 L577.67 93.0 L577.80 93.0 L577.92 98.3 L578.05 100.1 L578.17 100.5 L578.30 102.4 L578.42 110.7 L578.55 118.3 L578.67 124.1 L578.80 125.6 L578.92 126.2 L579.05 127.1 L579.17 131.8 L579.30 138.7 L579.42 144.7 L579.55 148.4 L579.67 148.5 L579.80 148.7 L579.92 151.0 L580.05 157.0 L580.17 163.4 L580.30 167.6 L580.42 169.5 L580.55 168.8 L580.67 170.1 L580.80 174.2 L580.92 179.8 L581.05 185.0 L581.17 188.6 L581.30 188.7 L581.42 188.5 L581.55 189.5 L581.67 193.8 L581.80 202.3 L581.92 211.4 L582.05 211.5 L582.17 206.0 L582.30 199.4 L582.42 202.1 L582.55 213.6 L582.67 229.4 L582.80 244.3 L582.92 233.4 L583.05 219.9 L583.17 206.6 L583.30 213.4 L583.42 235.3 L583.55 249.9 L583.67 254.6 L583.80 246.4 L583.92 234.0 L584.05 231.3 L584.17 238.4 L584.30 255.2 L584.42 271.8 L584.55 276.1 L584.67 261.4 L584.80 249.7 L584.92 248.5 L585.05 257.8 L585.17 271.2 L585.30 278.7 L585.42 277.3 L585.55 273.7 L585.67 269.3 L585.80 273.5 L585.92 277.9 L586.05 283.3 L586.17 287.2 L586.30 287.2 L586.42 287.1 L586.55 287.7 L586.67 289.6 L586.80 293.7 L586.93 280.5 L587.05 269.8 L587.18 259.2 L587.31 248.9 L587.44 239.8 L587.56 231.6 L587.69 225.5 L587.82 219.8 L587.94 213.6 L588.07 206.2 L588.20 198.7 L588.32 191.4 L588.45 186.5 L588.58 183.2 L588.71 179.9 L588.83 173.9 L588.96 167.2 L589.09 160.5 L589.21 154.7 L589.34 151.6 L589.47 150.3 L589.59 147.3 L589.72 141.5 L589.85 133.9 L589.98 127.5 L590.10 123.7 L590.23 122.9 L590.36 122.8 L590.48 118.2 L590.61 112.0 L590.74 103.7 L590.86 99.2 L590.99 98.1 L591.12 98.5 L591.25 98.2 L591.37 92.6 L591.50 89.3 L591.63 89.3 L591.75 91.1 L591.88 100.0 L592.00 107.5 L592.13 111.1 L592.25 112.1 L592.38 113.0 L592.50 115.6 L592.63 121.2 L592.75 128.3 L592.88 132.8 L593.00 134.8 L593.13 134.7 L593.25 136.4 L593.38 140.4 L593.51 146.4 L593.63 152.2 L593.76 154.4 L593.88 154.8 L594.01 154.8 L594.13 157.2 L594.26 163.1 L594.38 169.0 L594.51 173.6 L594.63 174.2 L594.76 173.5 L594.88 175.2 L595.01 178.9 L595.14 185.2 L595.26 191.1 L595.39 192.8 L595.51 190.3 L595.64 185.1 L595.76 188.1 L595.89 199.7 L596.01 216.9 L596.14 218.7 L596.26 212.6 L596.39 199.3 L596.51 196.6 L596.64 205.8 L596.76 226.3 L596.89 243.9 L597.02 235.3 L597.14 221.1 L597.27 212.2 L597.39 215.2 L597.52 232.9 L597.64 254.4 L597.77 252.0 L597.89 244.0 L598.02 231.1 L598.14 220.4 L598.27 238.8 L598.39 253.8 L598.52 262.3 L598.65 262.2 L598.77 252.8 L598.90 245.3 L599.02 249.4 L599.15 259.2 L599.27 268.6 L599.40 269.7 L599.52 268.5 L599.65 266.9 L599.77 267.2 L599.90 271.0 L600.02 274.6 L600.15 277.8"/>
<path fill="none" stroke="#7E2F8E" stroke-width="3.7" stroke-linejoin="round" stroke-linecap="round" d="M599.90 271.0 L600.02 274.6 L600.15 277.8 L600.27 279.3 L600.40 280.6 L600.52 267.6 L600.65 257.4 L600.77 248.8 L600.90 241.9 L601.02 235.7 L601.15 228.1 L601.27 220.7 L601.40 213.4 L601.52 207.1 L601.65 202.0 L601.77 198.3 L601.90 193.9 L602.02 188.3 L602.15 182.1 L602.27 175.8 L602.40 170.3 L602.52 167.8 L602.65 165.3 L602.77 162.9 L602.90 157.0 L603.02 151.1 L603.15 144.5 L603.27 140.5 L603.40 139.3 L603.52 137.7 L603.65 135.1 L603.77 131.3 L603.90 124.2 L604.02 117.5 L604.15 114.1 L604.27 114.5 L604.40 114.4 L604.52 113.7 L604.65 107.2 L604.77 99.9 L604.90 93.1 L605.02 91.9 L605.15 92.7 L605.27 92.8 L605.40 90.1 L605.53 92.8 L605.65 92.1 L605.78 93.5 L605.90 101.4 L606.03 108.5 L606.15 115.0 L606.28 118.6 L606.40 118.0 L606.53 118.7 L606.65 121.9 L606.78 126.9 L606.90 133.0 L607.03 138.2 L607.15 138.9 L607.28 139.0 L607.41 139.6 L607.53 143.1 L607.66 149.3 L607.78 155.2 L607.91 157.9 L608.03 158.5 L608.16 158.2 L608.28 159.1 L608.41 164.7 L608.53 170.3 L608.66 175.8 L608.78 176.4 L608.91 176.1 L609.04 176.6 L609.16 178.5 L609.29 184.8 L609.41 195.1 L609.54 200.0 L609.66 195.1 L609.79 187.2 L609.91 186.3 L610.04 194.8 L610.16 211.7 L610.29 225.9 L610.41 218.0 L610.54 203.7 L610.66 194.1 L610.79 199.4 L610.92 220.0 L611.04 238.6 L611.17 240.5 L611.29 224.3 L611.42 213.2 L611.54 206.9 L611.67 226.2 L611.79 245.8 L611.92 252.3 L612.04 245.7 L612.17 230.8 L612.29 226.2 L612.42 234.9 L612.55 248.7 L612.67 261.2 L612.80 257.4 L612.92 249.7 L613.05 245.8 L613.17 247.3 L613.30 256.0 L613.42 261.0 L613.55 264.1 L613.67 263.0 L613.80 261.6 L613.92 263.5 L614.05 266.1 L614.17 269.6 L614.30 271.4 L614.43 259.6 L614.55 248.3 L614.68 238.4 L614.80 230.4 L614.93 223.8 L615.05 218.3 L615.18 211.9 L615.31 204.9 L615.43 197.5 L615.56 190.6 L615.68 186.2 L615.81 182.6 L615.93 179.4 L616.06 174.5 L616.19 167.5 L616.31 160.8 L616.44 155.8 L616.56 153.4 L616.69 151.5 L616.81 148.3 L616.94 143.4 L617.07 136.9 L617.19 130.4 L617.32 126.9 L617.44 126.3 L617.57 125.2 L617.69 123.0 L617.82 117.5 L617.95 110.3 L618.07 104.5 L618.20 102.6 L618.32 103.1 L618.45 103.7 L618.57 99.5 L618.70 96.3 L618.83 96.3 L618.95 96.3 L619.08 101.2 L619.20 108.9 L619.33 114.7 L619.46 118.2 L619.58 117.6 L619.71 117.8 L619.83 120.3 L619.96 124.7 L620.09 130.8 L620.21 135.5 L620.34 137.1 L620.46 137.3 L620.59 137.0 L620.72 139.2 L620.84 144.9 L620.97 150.1 L621.09 154.7 L621.22 155.1 L621.35 155.0 L621.47 154.3 L621.60 157.9 L621.72 163.1 L621.85 168.4 L621.98 172.5 L622.10 171.9 L622.23 171.2 L622.35 172.3 L622.48 174.9 L622.61 180.7 L622.73 186.5 L622.86 187.9 L622.98 187.6 L623.11 183.5 L623.24 181.8 L623.36 189.5 L623.49 201.1 L623.61 212.0 L623.74 212.8 L623.86 199.3 L623.99 187.2 L624.12 187.5 L624.24 206.8 L624.37 223.2 L624.49 227.7 L624.62 222.5 L624.75 202.9 L624.87 199.8 L625.00 212.5 L625.12 231.2 L625.25 242.4 L625.38 243.8 L625.50 225.9 L625.63 210.6 L625.75 218.5 L625.88 232.3 L626.01 248.7 L626.13 254.0 L626.26 245.5 L626.38 230.7 L626.51 231.9 L626.64 239.9 L626.76 251.5 L626.89 258.2 L627.01 255.3 L627.14 250.3 L627.27 248.7 L627.39 251.3 L627.52 257.1 L627.64 260.6 L627.77 262.6 L627.90 261.7 L628.02 261.5 L628.15 262.2 L628.27 265.5 L628.40 268.2 L628.53 255.1 L628.65 243.1 L628.78 231.8 L628.91 222.1 L629.04 214.3 L629.16 208.0 L629.29 201.8 L629.42 194.4 L629.55 186.4 L629.67 179.2 L629.80 172.9 L629.93 168.9 L630.05 165.0 L630.18 160.3 L630.31 153.0 L630.44 145.6 L630.56 140.4 L630.69 137.1 L630.82 134.8 L630.95 131.3 L631.07 125.8 L631.20 118.5 L631.33 112.0 L631.45 108.9 L631.58 108.2 L631.71 107.7 L631.84 102.1 L631.96 95.1 L632.09 86.8 L632.22 83.2 L632.35 83.5 L632.47 84.4 L632.60 80.7 L632.73 83.9 L632.85 83.0 L632.98 83.0 L633.10 88.4 L633.23 96.9 L633.35 103.8 L633.48 105.5 L633.60 106.2 L633.73 105.9 L633.85 107.3 L633.98 112.8 L634.10 118.7 L634.23 124.0 L634.35 126.1 L634.48 125.6 L634.61 126.0 L634.73 127.8 L634.86 133.3 L634.98 139.2 L635.11 142.3 L635.23 144.2 L635.36 143.5 L635.48 143.5 L635.61 145.7 L635.73 151.6 L635.86 156.8 L635.98 160.5 L636.11 160.8 L636.23 160.4 L636.36 160.8 L636.48 163.9 L636.61 169.0 L636.74 174.7 L636.86 179.4 L636.99 177.6 L637.11 173.0 L637.24 172.6 L637.36 175.0 L637.49 187.3 L637.61 198.8 L637.74 205.9 L637.86 195.0 L637.99 181.0 L638.11 173.0 L638.24 189.5 L638.36 208.0 L638.49 221.7 L638.62 219.3 L638.74 207.3 L638.87 195.4 L638.99 187.3 L639.12 204.7 L639.24 223.5 L639.37 238.2 L639.49 231.3 L639.62 217.7 L639.74 203.2 L639.87 211.1 L639.99 222.6 L640.12 239.3 L640.24 247.9 L640.37 241.0 L640.49 227.1 L640.62 221.5 L640.75 229.5 L640.87 240.1 L641.00 247.0 L641.12 248.3 L641.25 245.2 L641.37 242.0 L641.50 243.3 L641.62 247.2 L641.75 252.0 L641.87 254.8 L642.00 255.6 L642.12 254.9 L642.25 255.5 L642.37 257.1 L642.50 260.7 L642.62 250.5 L642.75 241.9 L642.88 233.5 L643.00 225.2 L643.12 218.5"/>
<path fill="none" stroke="#7E2F8E" stroke-width="4.6" stroke-linejoin="round" stroke-linecap="round" d="M642.88 233.5 L643.00 225.2 L643.12 218.5 L643.25 213.0 L643.38 208.8 L643.50 204.0 L643.62 198.9 L643.75 192.4 L643.88 186.7 L644.00 182.3 L644.12 179.4 L644.25 177.3 L644.38 173.5 L644.50 167.4 L644.62 161.5 L644.75 157.4 L644.88 154.7 L645.00 154.0 L645.12 151.6 L645.25 147.3 L645.38 140.7 L645.50 134.4 L645.62 132.5 L645.75 133.0 L645.88 133.8 L646.00 128.9 L646.12 123.3 L646.25 116.6 L646.38 113.4 L646.50 113.6 L646.62 115.6 L646.75 112.8 L646.88 108.5 L647.00 101.0 L647.12 102.3 L647.25 112.7 L647.38 129.1 L647.50 143.2 L647.62 147.8 L647.75 142.0 L647.88 139.0 L648.00 142.6 L648.12 156.3 L648.25 171.0 L648.38 184.9 L648.50 180.3 L648.62 170.1 L648.75 171.4 L648.88 175.2 L649.00 195.0 L649.12 209.3 L649.25 214.2 L649.38 204.1 L649.50 196.1 L649.62 197.8 L649.75 208.9 L649.88 224.5 L650.00 236.3 L650.13 232.0 L650.26 214.2 L650.39 200.8 L650.52 205.7 L650.65 221.6 L650.78 235.3 L650.91 234.2 L651.04 221.5 L651.17 205.8 L651.30 203.7 L651.43 211.5 L651.56 229.7 L651.69 232.4 L651.82 229.4 L651.95 212.9 L652.08 202.4 L652.21 205.0 L652.34 217.7 L652.47 234.3 L652.60 234.3 L652.73 220.5 L652.85 204.7 L652.98 202.2 L653.10 208.9 L653.23 222.4 L653.35 233.0 L653.48 232.8 L653.60 221.4 L653.73 207.7 L653.85 207.0 L653.98 213.1 L654.10 227.0 L654.23 236.7 L654.35 232.5 L654.48 223.6 L654.60 214.3 L654.73 214.1 L654.85 220.5 L654.98 229.9 L655.10 232.5 L655.23 233.3 L655.37 226.1 L655.50 225.8 L655.63 231.9 L655.77 243.3 L655.90 254.4 L656.03 260.1 L656.17 262.4 L656.30 264.5 L656.43 267.0 L656.57 272.4 L656.70 276.1 L656.83 265.9 L656.95 254.6 L657.08 243.7 L657.20 234.1 L657.33 226.7 L657.45 223.6 L657.58 221.3 L657.71 214.6 L657.83 207.2 L657.96 196.7 L658.08 189.0 L658.21 188.0 L658.33 187.5 L658.46 185.6 L658.59 180.0 L658.71 171.2 L658.84 161.1 L658.96 157.3 L659.09 158.8 L659.21 161.8 L659.34 158.8 L659.47 150.6 L659.59 141.0 L659.72 131.5 L659.84 133.3 L659.97 137.0 L660.09 139.3 L660.22 132.6 L660.35 122.7 L660.47 112.8 L660.60 107.9 L660.72 113.9 L660.85 119.1 L660.97 121.1 L661.10 102.9 L661.23 104.3 L661.35 107.5 L661.48 122.1 L661.60 138.2 L661.73 150.6 L661.85 152.9 L661.98 144.5 L662.10 138.0 L662.23 146.4 L662.35 164.2 L662.48 184.0 L662.60 183.6 L662.73 178.8 L662.85 170.2 L662.98 172.6 L663.10 184.5 L663.23 205.9 L663.35 220.3 L663.48 208.2 L663.60 196.2 L663.73 188.4 L663.85 195.3 L663.98 218.3 L664.10 237.2 L664.23 233.3 L664.36 215.7 L664.49 200.8 L664.62 194.6 L664.75 215.9 L664.88 231.5 L665.01 238.0 L665.14 220.0 L665.27 203.4 L665.40 193.5 L665.53 209.7 L665.66 229.8 L665.79 237.8 L665.92 225.8 L666.05 203.3 L666.18 194.3 L666.31 201.3 L666.44 219.9 L666.57 238.0 L666.70 226.2 L666.83 210.1 L666.96 199.7 L667.09 199.5 L667.23 213.8 L667.36 233.4 L667.49 232.6 L667.62 219.6 L667.75 202.0 L667.88 202.5 L668.02 211.1 L668.15 227.2 L668.28 237.0 L668.41 229.9 L668.54 214.8 L668.67 207.7 L668.81 211.3 L668.94 222.6 L669.07 235.1 L669.20 233.7 L669.33 223.9 L669.47 218.0 L669.60 219.8 L669.73 231.4 L669.87 246.4 L670.00 254.0 L670.13 258.1 L670.27 258.1 L670.40 262.3 L670.53 268.4 L670.67 274.1 L670.80 276.1 L670.93 264.8 L671.05 252.2 L671.18 241.0 L671.31 232.0 L671.44 226.1 L671.56 222.5 L671.69 217.5 L671.82 210.8 L671.95 201.4 L672.07 190.8 L672.20 185.7 L672.33 185.1 L672.45 185.9 L672.58 181.0 L672.71 174.3 L672.84 163.4 L672.96 154.7 L673.09 152.3 L673.22 154.8 L673.35 155.6 L673.47 153.6 L673.60 143.2 L673.73 133.1 L673.85 126.2 L673.98 127.5 L674.11 131.1 L674.24 134.4 L674.36 127.5 L674.49 114.7 L674.62 103.1 L674.75 101.0 L674.87 106.0 L675.00 101.0 L675.12 122.5 L675.25 123.4 L675.38 115.7 L675.50 116.9 L675.62 126.9 L675.75 147.1 L675.88 162.1 L676.00 163.9 L676.12 156.2 L676.25 142.9 L676.38 145.9 L676.50 166.3 L676.62 192.5 L676.75 203.7 L676.88 195.2 L677.00 177.5 L677.12 170.7 L677.25 179.3 L677.38 205.7 L677.50 228.0 L677.62 232.3 L677.75 209.3 L677.88 187.8 L678.00 193.4 L678.13 213.2 L678.26 239.2 L678.39 246.5 L678.52 223.0 L678.65 193.6 L678.78 181.2 L678.91 208.1 L679.04 236.1 L679.17 248.7 L679.30 226.1 L679.43 197.8 L679.56 177.8 L679.69 203.3 L679.82 228.9 L679.95 238.2 L680.08 232.1 L680.21 198.2 L680.34 183.4 L680.47 198.1 L680.60 223.0 L680.73 241.7 L680.85 237.2 L680.98 210.2 L681.10 187.4 L681.23 185.9 L681.35 211.0 L681.48 233.4 L681.60 245.4 L681.73 223.0 L681.85 200.5 L681.98 193.6 L682.10 201.8 L682.23 224.1 L682.35 245.3 L682.48 234.2 L682.60 217.4 L682.73 203.1 L682.85 202.0 L682.98 217.4 L683.10 233.6 L683.23 239.0 L683.35 230.3 L683.48 213.3 L683.60 205.5 L683.73 212.4 L683.87 228.8 L684.00 243.8 L684.13 241.6 L684.27 235.8 L684.40 232.4 L684.53 241.8 L684.67 254.1 L684.80 262.9 L684.93 266.9 L685.07 265.0 L685.20 266.9 L685.33 250.3 L685.45 241.4 L685.58 235.0 L685.70 230.0 L685.83 220.8 L685.95 210.8 L686.08 200.5 L686.21 193.9 L686.33 191.9 L686.46 190.5 L686.58 187.8 L686.71 179.8 L686.84 170.0 L686.96 161.8 L687.09 156.3 L687.21 157.9 L687.34 159.1 L687.46 156.2 L687.59 148.8 L687.72 138.4 L687.84 131.4 L687.97 126.6 L688.09 130.7 L688.22 133.1 L688.35 130.6 L688.47 121.8 L688.60 109.8 L688.72 101.0 L688.85 101.6 L688.97 108.0 L689.10 99.7 L689.23 121.8 L689.35 117.7 L689.48 111.8 L689.60 112.1 L689.73 125.8 L689.85 143.6 L689.98 161.0 L690.10 161.5 L690.23 152.7 L690.35 147.3 L690.48 142.2 L690.60 161.0 L690.73 180.8 L690.85 190.8 L690.98 189.4 L691.10 178.5 L691.23 164.9 L691.35 174.5 L691.48 193.9 L691.60 219.5 L691.73 227.2 L691.85 211.7 L691.98 191.6 L692.10 184.4 L692.23 194.1 L692.36 220.4 L692.49 239.8 L692.62 230.8 L692.75 204.4 L692.88 190.2 L693.01 187.3 L693.14 210.5 L693.27 233.3 L693.40 230.3 L693.53 211.4 L693.66 187.9 L693.79 187.0 L693.92 202.7 L694.05 221.7 L694.18 231.5 L694.31 213.6 L694.44 191.7 L694.57 186.3 L694.70 195.8 L694.83 219.8 L694.96 231.6 L695.09 222.1 L695.22 199.5 L695.35 180.5 L695.48 193.8 L695.61 215.9 L695.74 231.7 L695.87 226.3 L696.00 204.3 L696.13 190.5 L696.26 190.8 L696.39 212.9 L696.51 230.4 L696.64 228.5 L696.77 211.1 L696.90 195.1 L697.03 195.3 L697.16 212.1 L697.29 226.7 L697.42 233.4 L697.55 216.7 L697.68 202.0 L697.81 196.0 L697.94 211.5 L698.07 226.3 L698.20 230.4 L698.33 220.2 L698.47 209.2 L698.60 212.5 L698.73 225.5 L698.87 242.6 L699.00 254.4 L699.13 255.1 L699.27 256.0 L699.40 260.2 L699.53 268.0 L699.67 275.2 L699.80 276.1 L699.93 261.9 L700.06 247.3 L700.18 234.7"/>
<path fill="none" stroke="#7E2F8E" stroke-width="4.4" stroke-linejoin="round" stroke-linecap="round" d="M699.80 276.1 L699.93 261.9 L700.06 247.3 L700.18 234.7 L700.31 226.1 L700.44 220.4 L700.57 216.7 L700.69 209.2 L700.82 198.7 L700.95 187.8 L701.08 180.0 L701.20 176.6 L701.33 176.1 L701.46 174.0 L701.59 166.8 L701.71 155.3 L701.84 144.0 L701.97 138.9 L702.10 141.2 L702.22 141.9 L702.35 139.7 L702.48 130.1 L702.61 119.2 L702.73 107.8 L702.86 108.5 L702.99 113.6 L703.12 117.7 L703.24 113.4 L703.37 100.5 L703.50 100.5 L703.62 100.5 L703.75 104.2 L703.88 121.9 L704.00 135.4 L704.12 135.5 L704.25 131.3 L704.38 126.3 L704.50 127.6 L704.62 144.0 L704.75 159.5 L704.88 168.8 L705.00 173.2 L705.12 162.1 L705.25 154.3 L705.38 160.4 L705.50 174.7 L705.62 195.9 L705.75 205.0 L705.88 199.1 L706.00 188.3 L706.12 179.7 L706.25 185.8 L706.38 202.5 L706.50 223.1 L706.63 230.5 L706.76 212.2 L706.89 194.6 L707.02 190.7 L707.15 196.5 L707.28 213.7 L707.41 225.9 L707.54 224.0 L707.67 203.0 L707.80 191.2 L707.93 187.3 L708.06 201.3 L708.19 222.2 L708.32 227.9 L708.45 210.0 L708.58 191.6 L708.71 186.6 L708.84 191.4 L708.97 210.0 L709.10 219.2 L709.23 213.2 L709.35 199.9 L709.48 183.6 L709.60 189.8 L709.73 201.7 L709.86 215.0 L709.98 224.6 L710.11 208.8 L710.23 196.6 L710.36 185.9 L710.49 197.7 L710.61 213.5 L710.74 220.0 L710.86 215.6 L710.99 203.9 L711.11 192.0 L711.24 193.3 L711.37 208.4 L711.49 218.5 L711.62 223.5 L711.74 213.0 L711.87 200.7 L712.00 194.2 L712.12 205.8 L712.25 219.0 L712.37 224.4 L712.50 215.9 L712.63 208.1 L712.77 203.8 L712.90 213.8 L713.03 230.0 L713.17 242.3 L713.30 248.2 L713.43 249.8 L713.57 253.2 L713.70 263.8 L713.83 273.1 L713.97 278.1 L714.10 278.1 L714.23 261.4 L714.35 247.5 L714.48 238.5 L714.61 232.0 L714.73 226.2 L714.86 218.8 L714.99 207.8 L715.11 197.0 L715.24 189.8 L715.37 186.7 L715.49 186.7 L715.62 182.8 L715.75 173.1 L715.87 162.0 L716.00 154.6 L716.13 149.7 L716.25 152.7 L716.38 153.8 L716.51 145.9 L716.63 134.8 L716.76 122.0 L716.89 117.9 L717.01 121.6 L717.14 124.9 L717.27 123.5 L717.39 114.7 L717.52 101.0 L717.65 100.5 L717.77 100.5 L717.90 100.5 L718.02 114.9 L718.15 117.3 L718.27 114.8 L718.40 111.6 L718.52 113.9 L718.65 125.9 L718.77 143.6 L718.90 155.8 L719.02 151.3 L719.15 145.4 L719.27 138.6 L719.40 143.0 L719.52 159.9 L719.65 175.3 L719.77 187.5 L719.90 182.5 L720.02 170.8 L720.15 162.7 L720.27 173.2 L720.40 188.4 L720.52 205.1 L720.65 213.0 L720.77 202.7 L720.90 190.1 L721.03 179.2 L721.16 190.6 L721.29 204.8 L721.42 217.6 L721.55 213.9 L721.68 199.9 L721.81 187.1 L721.94 180.3 L722.07 192.4 L722.20 208.4 L722.33 211.8 L722.46 209.1 L722.59 190.7 L722.72 182.6 L722.85 182.9 L722.98 198.0 L723.11 214.1 L723.24 212.5 L723.37 199.9 L723.50 184.0 L723.63 182.0 L723.76 189.7 L723.89 202.8 L724.02 214.5 L724.15 207.4 L724.27 194.4 L724.40 184.6 L724.53 185.3 L724.66 197.9 L724.79 208.0 L724.92 216.8 L725.05 204.4 L725.18 194.2"/>
<path fill="none" stroke="#7E2F8E" stroke-width="3.8" stroke-linejoin="round" stroke-linecap="round" d="M724.92 216.8 L725.05 204.4 L725.18 194.2 L725.31 187.2 L725.44 194.0 L725.57 206.6 L725.70 215.6 L725.83 211.0 L725.95 201.1 L726.08 195.6 L726.21 196.8 L726.34 204.2 L726.47 214.8 L726.60 213.8 L726.73 207.0 L726.87 202.7 L727.00 204.9 L727.13 219.2 L727.27 235.0 L727.40 244.5 L727.53 248.0 L727.67 249.8 L727.80 257.1 L727.93 265.2 L728.07 271.1 L728.20 272.4 L728.33 259.5 L728.46 247.5 L728.58 236.9 L728.71 230.0 L728.84 225.9 L728.97 221.9 L729.10 214.3 L729.23 204.7 L729.35 196.0 L729.48 191.5 L729.61 189.6 L729.74 188.8 L729.87 182.4 L729.99 174.4 L730.12 165.7 L730.25 160.2 L730.38 160.6 L730.51 160.7 L730.63 157.8 L730.76 150.1 L730.89 140.4 L731.02 134.3 L731.15 135.6 L731.27 136.5 L731.40 135.7 L731.53 129.7 L731.66 119.8 L731.79 115.4 L731.92 115.4 L732.04 115.4 L732.17 117.8 L732.30 115.4 L732.42 115.4 L732.55 115.4 L732.67 118.9 L732.80 128.4 L732.92 140.9 L733.05 148.4 L733.17 145.8 L733.30 141.9 L733.42 140.8 L733.55 148.2 L733.67 161.0 L733.80 171.1 L733.92 173.1 L734.05 169.1 L734.17 164.0 L734.30 167.8 L734.42 177.3 L734.55 189.0 L734.67 198.8 L734.80 193.8 L734.92 186.7 L735.05 184.3 L735.17 189.7 L735.30 200.7 L735.43 209.3 L735.56 214.0 L735.69 202.1 L735.82 188.2 L735.95 188.7 L736.08 193.9 L736.21 204.1 L736.34 214.1 L736.47 207.4 L736.60 193.6 L736.73 185.4 L736.86 187.6 L736.99 197.4 L737.12 207.3 L737.25 209.2 L737.38 198.7 L737.51 188.6 L737.64 185.8 L737.77 188.6 L737.90 201.3 L738.03 206.1 L738.16 207.0 L738.28 194.9 L738.41 186.2 L738.54 187.4 L738.67 194.4 L738.80 205.9 L738.92 208.0 L739.05 203.0 L739.18 194.6 L739.31 189.6 L739.44 189.6 L739.56 200.3 L739.69 210.8 L739.82 208.2 L739.95 204.8 L740.08 195.7 L740.20 194.4 L740.33 197.5 L740.46 205.6 L740.59 210.5 L740.72 209.2 L740.84 203.4 L740.97 195.5 L741.10 194.6 L741.23 202.7 L741.37 211.7 L741.50 218.6 L741.63 222.2 L741.77 224.6 L741.90 229.4 L742.03 241.0 L742.17 253.0 L742.30 260.0 L742.43 264.7 L742.57 264.5 L742.70 268.2 L742.83 254.1 L742.95 246.8 L743.08 241.0 L743.21 233.6 L743.34 225.1 L743.46 215.6 L743.59 209.8 L743.72 205.8 L743.85 203.6 L743.97 200.2 L744.10 194.7 L744.23 185.9 L744.35 179.6 L744.48 176.3 L744.61 175.3 L744.74 175.2 L744.86 170.8 L744.99 162.9 L745.12 155.5 L745.25 150.3 L745.37 150.8 L745.50 153.1 L745.63 150.8 L745.75 143.4 L745.88 135.5 L746.01 128.2 L746.14 129.0 L746.26 132.1 L746.39 130.9 L746.52 127.7 L746.65 122.6 L746.77 122.6 L746.90 122.6 L747.02 122.6 L747.15 129.9 L747.27 137.3 L747.40 133.9 L747.52 129.6 L747.65 134.1 L747.77 143.0 L747.90 155.3 L748.02 160.5 L748.15 159.0 L748.27 154.6 L748.40 152.0 L748.52 160.6 L748.65 171.3 L748.77 181.1 L748.90 182.9 L749.02 176.8 L749.15 169.7 L749.27 171.0 L749.40 183.1 L749.52 195.4 L749.65 203.1 L749.77 197.1 L749.90 187.5 L750.03 185.1 L750.16 186.6 L750.29 200.5 L750.42 206.4 L750.55 202.4 L750.68 190.7 L750.81 181.8 L750.94 186.0 L751.07 194.3 L751.20 202.0 L751.33 201.5 L751.46 193.0 L751.59 183.5 L751.72 178.0 L751.85 188.6 L751.98 197.3 L752.11 204.3 L752.24 195.8 L752.37 186.5 L752.50 178.0 L752.63 182.5 L752.76 193.7 L752.89 202.9 L753.02 199.2 L753.15 192.6 L753.28 183.6 L753.41 186.1 L753.54 192.0 L753.66 201.0 L753.79 205.1 L753.92 200.8 L754.05 194.5 L754.18 189.8 L754.31 193.0 L754.44 199.2 L754.57 206.4 L754.70 204.2 L754.83 201.0 L754.97 197.5 L755.10 202.6 L755.23 211.4 L755.37 224.8 L755.50 233.7 L755.63 239.3 L755.77 242.5 L755.90 246.9 L756.03 253.1 L756.17 258.9 L756.30 261.2 L756.42 253.3 L756.55 244.8 L756.67 236.6 L756.80 230.1 L756.92 225.6 L757.05 223.5 L757.17 220.9 L757.30 216.1 L757.42 209.5 L757.55 203.7 L757.67 198.8 L757.80 196.5 L757.92 196.1 L758.05 193.5 L758.17 189.6 L758.30 183.9 L758.42 178.7 L758.55 175.3 L758.67 174.6 L758.80 174.3 L758.92 172.6 L759.05 167.9 L759.17 162.8 L759.30 157.1 L759.42 155.5 L759.55 156.1 L759.67 156.5 L759.80 154.6 L759.92 149.4 L760.05 143.2 L760.17 140.8 L760.30 139.2 L760.42 140.2 L760.55 140.6 L760.67 136.8 L760.80 134.5 L760.92 134.5 L761.05 134.5 L761.17 134.5 L761.30 134.5 L761.43 134.5 L761.56 134.5 L761.68 134.5 L761.81 134.5 L761.94 134.5 L762.07 135.1 L762.20 141.2 L762.32 143.9 L762.45 143.6 L762.58 145.8 L762.71 150.9 L762.84 159.1 L762.96 166.1 L763.09 170.4 L763.22 172.2 L763.35 173.5 L763.48 177.3 L763.60 184.1 L763.73 190.6 L763.86 193.9 L763.99 194.4 L764.12 192.2 L764.24 192.7 L764.37 196.1 L764.50 200.5 L764.63 201.1 L764.76 199.1 L764.89 193.8 L765.02 190.0 L765.15 189.6 L765.28 191.2 L765.41 190.7 L765.54 186.7 L765.66 180.6 L765.79 175.0 L765.92 173.5 L766.05 174.7 L766.18 174.7 L766.31 173.3 L766.44 168.8 L766.57 165.3 L766.70 164.3 L766.83 167.7 L766.95 171.4 L767.08 174.6 L767.20 172.9 L767.33 171.3 L767.45 172.9 L767.58 176.9 L767.70 182.9 L767.83 188.3 L767.95 190.9 L768.08 192.7 L768.20 194.3 L768.33 197.9 L768.45 205.0 L768.58 211.9 L768.70 218.5 L768.83 221.3 L768.95 223.2 L769.08 226.0 L769.20 230.8 L769.33 237.0 L769.45 243.1 L769.58 247.4 L769.70 248.9 L769.83 249.7 L769.95 251.1 L770.08 254.5 L770.20 258.8"/>
<path fill="none" stroke="#7E2F8E" stroke-width="3.0" stroke-linejoin="round" stroke-linecap="round" d="M769.83 249.7 L769.95 251.1 L770.08 254.5 L770.20 258.8 L770.33 261.7 L770.45 262.9 L770.58 261.7 L770.70 263.2 L770.83 249.9 L770.95 241.8 L771.08 236.1 L771.21 231.1 L771.34 224.0 L771.46 216.1 L771.59 208.4 L771.72 203.5 L771.85 200.4 L771.97 198.1 L772.10 194.8 L772.23 188.8 L772.35 182.1 L772.48 176.4 L772.61 172.9 L772.74 171.4 L772.86 169.8 L772.99 166.8 L773.12 161.5 L773.25 155.3 L773.37 150.7 L773.50 148.0 L773.63 148.2 L773.75 147.2 L773.88 143.8 L774.01 138.1 L774.14 132.4 L774.26 128.9 L774.39 128.9 L774.52 128.9 L774.65 128.9 L774.77 128.9 L774.90 128.9 L775.02 128.9 L775.15 128.9 L775.27 128.9 L775.40 128.9 L775.52 128.9 L775.65 128.9 L775.77 128.9 L775.90 129.3 L776.02 132.6 L776.15 139.2 L776.27 146.0 L776.40 150.0 L776.52 151.5 L776.65 152.5 L776.77 156.2 L776.90 161.7 L777.02 168.4 L777.15 173.5 L777.27 176.5 L777.40 177.8 L777.52 179.1 L777.65 181.2 L777.77 185.9 L777.90 190.0 L778.02 191.7 L778.15 191.9 L778.27 190.8 L778.40 189.9 L778.53 190.6 L778.66 192.1 L778.79 192.8 L778.92 190.6 L779.05 187.2 L779.18 183.9 L779.31 181.9 L779.44 182.0 L779.57 181.3 L779.70 179.1 L779.83 174.8 L779.96 171.0 L780.09 168.2 L780.22 168.2 L780.35 168.3 L780.48 166.6 L780.61 164.3 L780.74 161.4 L780.87 160.3 L781.00 161.6 L781.13 164.1 L781.25 165.0 L781.38 164.8 L781.51 164.7 L781.63 165.6 L781.76 168.6 L781.89 172.8 L782.01 176.5 L782.14 179.6 L782.26 181.4 L782.39 184.1 L782.52 187.8 L782.64 193.6 L782.77 198.9 L782.90 203.6 L783.02 207.1 L783.15 210.3 L783.28 214.2 L783.40 219.9 L783.53 225.4 L783.66 230.6 L783.78 233.9 L783.91 236.5 L784.04 239.7 L784.16 243.4 L784.29 247.7 L784.41 251.3 L784.54 254.0 L784.67 255.2 L784.79 255.8 L784.92 257.3 L785.05 259.1 L785.17 260.5 L785.30 261.0 L785.42 251.2 L785.55 242.0 L785.67 234.3 L785.80 228.0 L785.92 222.8 L786.05 218.3 L786.17 213.2 L786.30 207.5 L786.42 201.8 L786.55 197.0 L786.67 192.8 L786.80 190.0 L786.92 187.1 L787.05 182.9 L787.17 178.1 L787.30 173.4 L787.42 169.7 L787.55 166.7 L787.67 165.0 L787.80 162.4 L787.92 158.9 L788.05 154.4 L788.17 150.4 L788.30 146.7 L788.42 145.2 L788.55 144.1 L788.67 141.7 L788.80 139.0 L788.92 139.0 L789.05 139.0 L789.17 139.0 L789.30 139.0 L789.43 139.0 L789.56 139.0 L789.68 139.0 L789.81 139.0 L789.94 139.0 L790.07 139.0 L790.20 139.0 L790.32 139.0 L790.45 139.8 L790.58 141.1 L790.71 142.0 L790.84 144.6 L790.97 148.4 L791.09 153.4 L791.22 157.4 L791.35 160.3 L791.48 161.6 L791.61 163.5 L791.73 166.3 L791.86 170.6 L791.99 175.5 L792.12 178.3 L792.25 180.0 L792.38 180.7 L792.50 181.5 L792.63 184.1 L792.76 187.4 L792.89 189.8 L793.02 190.8 L793.14 190.4 L793.27 189.2 L793.40 189.1 L793.52 190.1 L793.65 191.2 L793.77 191.3 L793.90 189.6 L794.02 186.9 L794.15 184.5 L794.27 183.4 L794.40 183.1 L794.52 182.7 L794.65 181.4 L794.77 178.6 L794.90 175.3 L795.02 172.7 L795.15 172.0 L795.27 172.8 L795.40 172.3 L795.52 171.1 L795.65 168.8 L795.77 167.0 L795.90 166.5 L796.03 168.7 L796.15 171.3 L796.28 172.3 L796.40 172.4 L796.53 172.6 L796.65 174.5 L796.78 177.6 L796.91 182.2 L797.03 186.7 L797.16 189.1 L797.28 191.2 L797.41 194.2 L797.54 198.3 L797.66 203.8 L797.79 209.4 L797.91 213.0 L798.04 216.2 L798.16 219.1 L798.29 223.0 L798.42 227.7 L798.54 232.5 L798.67 236.5 L798.79 238.9 L798.92 240.6 L799.05 242.6 L799.17 245.4 L799.30 248.1 L799.42 250.5 L799.55 251.0 L799.67 250.8 L799.80 251.9 L799.93 242.1 L800.05 236.0 L800.18 230.8"/>
</g>
</svg>
<g class="tick">
<text transform="translate(71.0,371.7) scale(1,1.06)" text-anchor="middle">0</text>
<text transform="translate(226.7,371.7) scale(1,1.06)" text-anchor="middle">0.05</text>
<text transform="translate(382.4,371.7) scale(1,1.06)" text-anchor="middle">0.1</text>
<text transform="translate(538.1,371.7) scale(1,1.06)" text-anchor="middle">0.15</text>
<text transform="translate(693.9,371.7) scale(1,1.06)" text-anchor="middle">0.2</text>
<text transform="translate(849.6,371.7) scale(1,1.06)" text-anchor="middle">0.25</text>
<text transform="translate(1005.3,371.7) scale(1,1.06)" text-anchor="middle">0.3</text>
<text transform="translate(1161.0,371.7) scale(1,1.06)" text-anchor="middle">0.35</text>
<text transform="translate(64,353.3) scale(1,1.06)" text-anchor="end">-0.3</text>
<text transform="translate(64,299.8) scale(1,1.06)" text-anchor="end">-0.2</text>
<text transform="translate(64,246.3) scale(1,1.06)" text-anchor="end">-0.1</text>
<text transform="translate(64,192.8) scale(1,1.06)" text-anchor="end">0</text>
<text transform="translate(64,139.3) scale(1,1.06)" text-anchor="end">0.1</text>
<text transform="translate(64,85.8) scale(1,1.06)" text-anchor="end">0.2</text>
<text transform="translate(64,32.3) scale(1,1.06)" text-anchor="end">0.3</text>
</g>
<text class="title" transform="translate(616.7,18.1) scale(1,1.07)" text-anchor="middle">MAT-005-071-0004</text>
<text class="lab" transform="translate(616.6,398) scale(1,1.05)" text-anchor="middle">Time (s)</text>
<text class="lab" transform="translate(18.4,186.5) rotate(-90) scale(1,0.96)" text-anchor="middle">Amplitude</text>
</svg>
</body>
</html>
